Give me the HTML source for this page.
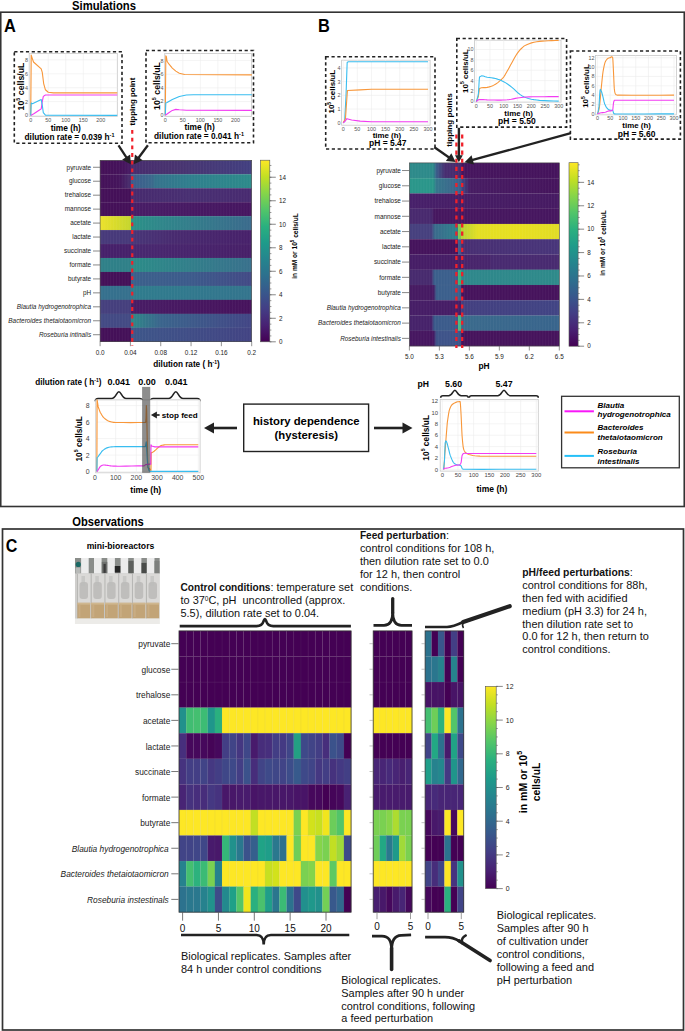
<!DOCTYPE html>
<html><head><meta charset="utf-8"><style>
html,body{margin:0;padding:0;background:#fff;}
svg{display:block;font-family:"Liberation Sans", sans-serif;}
</style></head><body>
<svg width="685" height="1031" viewBox="0 0 685 1031">
<defs><linearGradient id="vir" x1="0" y1="1" x2="0" y2="0"><stop offset="0.000" stop-color="#440154"/><stop offset="0.091" stop-color="#482173"/><stop offset="0.182" stop-color="#433e85"/><stop offset="0.273" stop-color="#38588c"/><stop offset="0.364" stop-color="#2d708e"/><stop offset="0.455" stop-color="#25858e"/><stop offset="0.545" stop-color="#1e9b8a"/><stop offset="0.636" stop-color="#2ab07f"/><stop offset="0.727" stop-color="#52c569"/><stop offset="0.818" stop-color="#86d549"/><stop offset="0.909" stop-color="#c2df23"/><stop offset="1.000" stop-color="#fde725"/></linearGradient><linearGradient id="g1" x1="0" y1="0" x2="1" y2="0"><stop offset="0.0000" stop-color="#440f57"/><stop offset="0.1500" stop-color="#45135b"/><stop offset="0.2040" stop-color="#481c65"/><stop offset="0.2040" stop-color="#472c6e"/><stop offset="0.5000" stop-color="#48336f"/><stop offset="1.0000" stop-color="#423f80"/></linearGradient><linearGradient id="g2" x1="0" y1="0" x2="1" y2="0"><stop offset="0.0000" stop-color="#441058"/><stop offset="0.1300" stop-color="#45155c"/><stop offset="0.2040" stop-color="#48306f"/><stop offset="0.2040" stop-color="#3d5a8b"/><stop offset="0.3500" stop-color="#3a6a8c"/><stop offset="0.3600" stop-color="#35728c"/><stop offset="0.6000" stop-color="#2f7f8d"/><stop offset="1.0000" stop-color="#2c8a8a"/></linearGradient><linearGradient id="g3" x1="0" y1="0" x2="1" y2="0"><stop offset="0.0000" stop-color="#441058"/><stop offset="0.2040" stop-color="#441058"/><stop offset="0.2040" stop-color="#472a6e"/><stop offset="0.6000" stop-color="#482f72"/><stop offset="1.0000" stop-color="#482a70"/></linearGradient><linearGradient id="g4" x1="0" y1="0" x2="1" y2="0"><stop offset="0.0000" stop-color="#441058"/><stop offset="0.2040" stop-color="#441058"/><stop offset="0.2040" stop-color="#481d66"/><stop offset="1.0000" stop-color="#461560"/></linearGradient><linearGradient id="g5" x1="0" y1="0" x2="1" y2="0"><stop offset="0.0000" stop-color="#ece12b"/><stop offset="0.2040" stop-color="#c4d52d"/><stop offset="0.2040" stop-color="#2a9187"/><stop offset="0.4000" stop-color="#2f868a"/><stop offset="1.0000" stop-color="#3a6a8c"/></linearGradient><linearGradient id="g6" x1="0" y1="0" x2="1" y2="0"><stop offset="0.0000" stop-color="#47397a"/><stop offset="0.2040" stop-color="#47397a"/><stop offset="0.2040" stop-color="#483678"/><stop offset="0.5000" stop-color="#482a6f"/><stop offset="1.0000" stop-color="#47206a"/></linearGradient><linearGradient id="g7" x1="0" y1="0" x2="1" y2="0"><stop offset="0.0000" stop-color="#46206a"/><stop offset="0.2040" stop-color="#46206a"/><stop offset="0.2040" stop-color="#482870"/><stop offset="1.0000" stop-color="#471f68"/></linearGradient><linearGradient id="g8" x1="0" y1="0" x2="1" y2="0"><stop offset="0.0000" stop-color="#2f8088"/><stop offset="0.2040" stop-color="#2f8088"/><stop offset="0.2040" stop-color="#2b8c88"/><stop offset="1.0000" stop-color="#38708c"/></linearGradient><linearGradient id="g9" x1="0" y1="0" x2="1" y2="0"><stop offset="0.0000" stop-color="#441058"/><stop offset="0.2040" stop-color="#441058"/><stop offset="0.2040" stop-color="#3b608b"/><stop offset="0.6000" stop-color="#3c5a8b"/><stop offset="1.0000" stop-color="#424985"/></linearGradient><linearGradient id="g10" x1="0" y1="0" x2="1" y2="0"><stop offset="0.0000" stop-color="#35708d"/><stop offset="0.2040" stop-color="#35708d"/><stop offset="0.2040" stop-color="#2f7c8d"/><stop offset="1.0000" stop-color="#33748d"/></linearGradient><linearGradient id="g11" x1="0" y1="0" x2="1" y2="0"><stop offset="0.0000" stop-color="#453f7d"/><stop offset="0.2040" stop-color="#453f7d"/><stop offset="0.2040" stop-color="#481c65"/><stop offset="1.0000" stop-color="#46125c"/></linearGradient><linearGradient id="g12" x1="0" y1="0" x2="1" y2="0"><stop offset="0.0000" stop-color="#434a84"/><stop offset="0.2040" stop-color="#434a84"/><stop offset="0.2040" stop-color="#2e8888"/><stop offset="0.4000" stop-color="#3a648c"/><stop offset="1.0000" stop-color="#424585"/></linearGradient><linearGradient id="g13" x1="0" y1="0" x2="1" y2="0"><stop offset="0.0000" stop-color="#441058"/><stop offset="0.2040" stop-color="#441058"/><stop offset="0.2040" stop-color="#3d5689"/><stop offset="1.0000" stop-color="#424383"/></linearGradient><pattern id="stripes" x="0" y="0" width="2.9" height="10" patternUnits="userSpaceOnUse"><rect x="0" y="0" width="0.7" height="10" fill="#fff" opacity="0.05"/></pattern><linearGradient id="g14" x1="0" y1="0" x2="1" y2="0"><stop offset="0.0000" stop-color="#2d8a8a"/><stop offset="0.1594" stop-color="#2d8a8a"/><stop offset="0.1794" stop-color="#3a5e8b"/><stop offset="0.2375" stop-color="#472d70"/><stop offset="0.3429" stop-color="#472a6e"/><stop offset="0.3429" stop-color="#46155e"/><stop offset="1.0000" stop-color="#45135c"/></linearGradient><linearGradient id="g15" x1="0" y1="0" x2="1" y2="0"><stop offset="0.0000" stop-color="#2a968a"/><stop offset="0.1594" stop-color="#2a968a"/><stop offset="0.1794" stop-color="#35778c"/><stop offset="0.3149" stop-color="#3b648b"/><stop offset="0.3429" stop-color="#3b5e8b"/><stop offset="0.3429" stop-color="#3e4e86"/><stop offset="0.4043" stop-color="#471c63"/><stop offset="1.0000" stop-color="#45145c"/></linearGradient><linearGradient id="g16" x1="0" y1="0" x2="1" y2="0"><stop offset="0.0000" stop-color="#47206a"/><stop offset="0.5000" stop-color="#461c64"/><stop offset="1.0000" stop-color="#461a62"/></linearGradient><linearGradient id="g17" x1="0" y1="0" x2="1" y2="0"><stop offset="0.0000" stop-color="#48296e"/><stop offset="0.1461" stop-color="#48296e"/><stop offset="0.1681" stop-color="#46175f"/><stop offset="1.0000" stop-color="#46165f"/></linearGradient><linearGradient id="g18" x1="0" y1="0" x2="1" y2="0"><stop offset="0.0000" stop-color="#46407e"/><stop offset="0.1461" stop-color="#46407e"/><stop offset="0.1681" stop-color="#3a6a8c"/><stop offset="0.3149" stop-color="#2e808c"/><stop offset="0.3256" stop-color="#2e808c"/><stop offset="0.3256" stop-color="#7ec850"/><stop offset="0.3429" stop-color="#7ec850"/><stop offset="0.3429" stop-color="#b5d235"/><stop offset="0.4576" stop-color="#e3de24"/><stop offset="0.7378" stop-color="#e8e020"/><stop offset="1.0000" stop-color="#e0dc26"/></linearGradient><linearGradient id="g19" x1="0" y1="0" x2="1" y2="0"><stop offset="0.0000" stop-color="#45135c"/><stop offset="0.3256" stop-color="#45135c"/><stop offset="0.3256" stop-color="#3d5a8a"/><stop offset="0.3429" stop-color="#3d5a8a"/><stop offset="0.3429" stop-color="#482e72"/><stop offset="1.0000" stop-color="#48357a"/></linearGradient><linearGradient id="g20" x1="0" y1="0" x2="1" y2="0"><stop offset="0.0000" stop-color="#461d66"/><stop offset="0.3429" stop-color="#461d66"/><stop offset="0.3429" stop-color="#48246b"/><stop offset="0.5377" stop-color="#48256c"/><stop offset="0.5444" stop-color="#482a70"/><stop offset="1.0000" stop-color="#482a70"/></linearGradient><linearGradient id="g21" x1="0" y1="0" x2="1" y2="0"><stop offset="0.0000" stop-color="#472a6e"/><stop offset="0.1461" stop-color="#472a6e"/><stop offset="0.1661" stop-color="#3b5f8c"/><stop offset="0.3256" stop-color="#3b5f8c"/><stop offset="0.3256" stop-color="#38b47a"/><stop offset="0.3429" stop-color="#38b47a"/><stop offset="0.3429" stop-color="#2e878b"/><stop offset="1.0000" stop-color="#2e8a8a"/></linearGradient><linearGradient id="g22" x1="0" y1="0" x2="1" y2="0"><stop offset="0.0000" stop-color="#461a62"/><stop offset="0.1594" stop-color="#461a62"/><stop offset="0.1814" stop-color="#3b5f8c"/><stop offset="0.3429" stop-color="#3b5f8c"/><stop offset="0.3429" stop-color="#46135c"/><stop offset="1.0000" stop-color="#46135c"/></linearGradient><linearGradient id="g23" x1="0" y1="0" x2="1" y2="0"><stop offset="0.0000" stop-color="#461d66"/><stop offset="0.3429" stop-color="#461d66"/><stop offset="0.3429" stop-color="#433f80"/><stop offset="1.0000" stop-color="#414484"/></linearGradient><linearGradient id="g24" x1="0" y1="0" x2="1" y2="0"><stop offset="0.0000" stop-color="#46226a"/><stop offset="0.1461" stop-color="#46226a"/><stop offset="0.1661" stop-color="#3b5b8b"/><stop offset="0.3256" stop-color="#3b5b8b"/><stop offset="0.3256" stop-color="#4ab880"/><stop offset="0.3429" stop-color="#4ab880"/><stop offset="0.3429" stop-color="#3a6a8c"/><stop offset="1.0000" stop-color="#38648c"/></linearGradient><linearGradient id="g25" x1="0" y1="0" x2="1" y2="0"><stop offset="0.0000" stop-color="#461660"/><stop offset="0.1594" stop-color="#461660"/><stop offset="0.1814" stop-color="#3e5389"/><stop offset="0.3429" stop-color="#3e5389"/><stop offset="0.3429" stop-color="#46135c"/><stop offset="1.0000" stop-color="#46135c"/></linearGradient><filter id="pblur" x="-5%" y="-5%" width="110%" height="110%"><feGaussianBlur stdDeviation="0.7"/></filter></defs>
<rect x="0" y="0" width="685" height="1031" fill="#fff"/>
<rect x="0.75" y="12.20" width="683.50" height="494.30" fill="none" stroke="#333" stroke-width="1.6" />
<rect x="2.50" y="529.00" width="681.00" height="501.00" fill="none" stroke="#333" stroke-width="1.7" />
<text x="0" y="0" font-size="11.3" font-weight="bold" transform="translate(72.0 9.7) scale(1 1.08)">Simulations</text>
<text x="0" y="0" font-size="11.2" font-weight="bold" transform="translate(72.3 525.5) scale(1 1.08)">Observations</text>
<text x="0" y="0" font-size="16.4" font-weight="bold" transform="translate(4.0 31.6) scale(1 1.1)">A</text>
<text x="0" y="0" font-size="16.4" font-weight="bold" transform="translate(318.0 32.2) scale(1 1.1)">B</text>
<text x="0" y="0" font-size="16.4" font-weight="bold" transform="translate(5.8 551.6) scale(0.98 1.12)">C</text>
<rect x="14.30" y="51.80" width="107.70" height="91.40" fill="none" stroke="#222" stroke-width="1.6" stroke-dasharray="3.2,2.6"/>
<rect x="29.20" y="53.40" width="88.10" height="62.90" fill="#fff" stroke="#c8c8c8" stroke-width="0.8" />
<line x1="30.70" y1="53.40" x2="30.70" y2="116.30" stroke="#ececec" stroke-width="0.6" />
<line x1="48.22" y1="53.40" x2="48.22" y2="116.30" stroke="#ececec" stroke-width="0.6" />
<line x1="65.75" y1="53.40" x2="65.75" y2="116.30" stroke="#ececec" stroke-width="0.6" />
<line x1="83.27" y1="53.40" x2="83.27" y2="116.30" stroke="#ececec" stroke-width="0.6" />
<line x1="100.80" y1="53.40" x2="100.80" y2="116.30" stroke="#ececec" stroke-width="0.6" />
<line x1="29.20" y1="115.50" x2="117.30" y2="115.50" stroke="#ececec" stroke-width="0.6" />
<line x1="29.20" y1="101.60" x2="117.30" y2="101.60" stroke="#ececec" stroke-width="0.6" />
<line x1="29.20" y1="87.70" x2="117.30" y2="87.70" stroke="#ececec" stroke-width="0.6" />
<line x1="29.20" y1="73.80" x2="117.30" y2="73.80" stroke="#ececec" stroke-width="0.6" />
<line x1="29.20" y1="59.90" x2="117.30" y2="59.90" stroke="#ececec" stroke-width="0.6" />
<text x="30.70" y="121.90" font-size="5.4" font-weight="normal" font-style="normal" text-anchor="middle" fill="#555" >0</text>
<text x="48.22" y="121.90" font-size="5.4" font-weight="normal" font-style="normal" text-anchor="middle" fill="#555" >50</text>
<text x="65.75" y="121.90" font-size="5.4" font-weight="normal" font-style="normal" text-anchor="middle" fill="#555" >100</text>
<text x="83.27" y="121.90" font-size="5.4" font-weight="normal" font-style="normal" text-anchor="middle" fill="#555" >150</text>
<text x="100.80" y="121.90" font-size="5.4" font-weight="normal" font-style="normal" text-anchor="middle" fill="#555" >200</text>
<text x="28.00" y="117.44" font-size="5.4" font-weight="normal" font-style="normal" text-anchor="end" fill="#555" >0</text>
<text x="28.00" y="103.54" font-size="5.4" font-weight="normal" font-style="normal" text-anchor="end" fill="#555" >2</text>
<text x="28.00" y="89.64" font-size="5.4" font-weight="normal" font-style="normal" text-anchor="end" fill="#555" >4</text>
<text x="28.00" y="75.74" font-size="5.4" font-weight="normal" font-style="normal" text-anchor="end" fill="#555" >6</text>
<text x="28.00" y="61.84" font-size="5.4" font-weight="normal" font-style="normal" text-anchor="end" fill="#555" >8</text>
<path d="M30.70,115.50 L31.23,55.04 L32.10,57.81 L33.50,61.98 L41.21,68.94 L42.27,72.41 L43.67,83.53 L45.42,89.78 L48.22,92.22 L53.48,92.91 L117.27,92.91" stroke="#f8973a" stroke-width="1.1" fill="none" stroke-linejoin="round"/>
<path d="M30.70,115.50 L34.20,113.42 L39.46,109.94 L41.21,108.90 L42.27,101.60 L43.32,96.39 L45.42,95.00 L117.27,95.00" stroke="#f23cf2" stroke-width="1.1" fill="none" stroke-linejoin="round"/>
<path d="M30.70,115.50 L31.23,102.99 L32.45,103.69 L41.21,99.52 L42.27,105.08 L43.32,112.72 L45.42,115.15 L117.27,115.36" stroke="#38bdf0" stroke-width="1.1" fill="none" stroke-linejoin="round"/>
<text x="20.60" y="86.50" font-size="8.8" font-weight="bold" font-style="normal" text-anchor="middle" fill="#000" transform="rotate(-90 20.6 86.5)" dominant-baseline="central">10<tspan dy="-3" font-size="5.4">5</tspan><tspan dy="3"> cells/uL</tspan></text>
<text x="65.80" y="130.60" font-size="8.4" font-weight="bold" font-style="normal" text-anchor="middle" fill="#000" >time (h)</text>
<text x="69.50" y="139.50" font-size="8.3" font-weight="bold" font-style="normal" text-anchor="middle" fill="#000" >dilution rate = 0.039 h<tspan dy="-3" font-size="5.5">-1</tspan></text>
<rect x="146.00" y="50.50" width="107.50" height="92.30" fill="none" stroke="#222" stroke-width="1.6" stroke-dasharray="3.2,2.6"/>
<rect x="164.70" y="53.50" width="86.70" height="62.90" fill="#fff" stroke="#c8c8c8" stroke-width="0.8" />
<line x1="165.30" y1="53.50" x2="165.30" y2="116.40" stroke="#ececec" stroke-width="0.6" />
<line x1="182.83" y1="53.50" x2="182.83" y2="116.40" stroke="#ececec" stroke-width="0.6" />
<line x1="200.35" y1="53.50" x2="200.35" y2="116.40" stroke="#ececec" stroke-width="0.6" />
<line x1="217.88" y1="53.50" x2="217.88" y2="116.40" stroke="#ececec" stroke-width="0.6" />
<line x1="235.40" y1="53.50" x2="235.40" y2="116.40" stroke="#ececec" stroke-width="0.6" />
<line x1="164.70" y1="115.20" x2="251.40" y2="115.20" stroke="#ececec" stroke-width="0.6" />
<line x1="164.70" y1="101.54" x2="251.40" y2="101.54" stroke="#ececec" stroke-width="0.6" />
<line x1="164.70" y1="87.88" x2="251.40" y2="87.88" stroke="#ececec" stroke-width="0.6" />
<line x1="164.70" y1="74.22" x2="251.40" y2="74.22" stroke="#ececec" stroke-width="0.6" />
<line x1="164.70" y1="60.56" x2="251.40" y2="60.56" stroke="#ececec" stroke-width="0.6" />
<text x="165.30" y="122.00" font-size="5.4" font-weight="normal" font-style="normal" text-anchor="middle" fill="#555" >0</text>
<text x="182.83" y="122.00" font-size="5.4" font-weight="normal" font-style="normal" text-anchor="middle" fill="#555" >50</text>
<text x="200.35" y="122.00" font-size="5.4" font-weight="normal" font-style="normal" text-anchor="middle" fill="#555" >100</text>
<text x="217.88" y="122.00" font-size="5.4" font-weight="normal" font-style="normal" text-anchor="middle" fill="#555" >150</text>
<text x="235.40" y="122.00" font-size="5.4" font-weight="normal" font-style="normal" text-anchor="middle" fill="#555" >200</text>
<text x="163.50" y="117.14" font-size="5.4" font-weight="normal" font-style="normal" text-anchor="end" fill="#555" >0</text>
<text x="163.50" y="103.48" font-size="5.4" font-weight="normal" font-style="normal" text-anchor="end" fill="#555" >2</text>
<text x="163.50" y="89.82" font-size="5.4" font-weight="normal" font-style="normal" text-anchor="end" fill="#555" >4</text>
<text x="163.50" y="76.16" font-size="5.4" font-weight="normal" font-style="normal" text-anchor="end" fill="#555" >6</text>
<text x="163.50" y="62.50" font-size="5.4" font-weight="normal" font-style="normal" text-anchor="end" fill="#555" >8</text>
<path d="M165.30,115.20 L165.83,55.78 L166.35,56.46 L167.05,61.24 L168.81,63.98 L172.31,68.07 L175.81,71.15 L179.32,73.20 L184.58,74.56 L251.87,74.90" stroke="#f8973a" stroke-width="1.1" fill="none" stroke-linejoin="round"/>
<path d="M165.30,115.20 L165.83,102.91 L167.05,102.56 L172.31,99.49 L179.32,96.42 L186.33,95.05 L193.34,94.71 L251.87,94.71" stroke="#38bdf0" stroke-width="1.1" fill="none" stroke-linejoin="round"/>
<path d="M165.30,115.20 L168.81,112.81 L172.31,110.42 L175.81,109.39 L179.32,109.74 L186.33,110.28 L251.87,110.42" stroke="#f23cf2" stroke-width="1.1" fill="none" stroke-linejoin="round"/>
<text x="156.50" y="86.00" font-size="8.8" font-weight="bold" font-style="normal" text-anchor="middle" fill="#000" transform="rotate(-90 156.5 86)" dominant-baseline="central">10<tspan dy="-3" font-size="5.4">5</tspan><tspan dy="3"> cells/uL</tspan></text>
<text x="199.60" y="130.30" font-size="8.4" font-weight="bold" font-style="normal" text-anchor="middle" fill="#000" >time (h)</text>
<text x="199.00" y="139.00" font-size="8.3" font-weight="bold" font-style="normal" text-anchor="middle" fill="#000" >dilution rate = 0.041 h<tspan dy="-3" font-size="5.5">-1</tspan></text>
<text x="133.00" y="101.60" font-size="7.9" font-weight="bold" font-style="normal" text-anchor="middle" fill="#000" transform="rotate(-90 133 101.6)" dominant-baseline="central">tipping point</text>
<rect x="325.70" y="56.70" width="109.30" height="92.30" fill="none" stroke="#222" stroke-width="1.6" stroke-dasharray="3.2,2.6"/>
<rect x="341.60" y="60.20" width="88.50" height="65.00" fill="#fff" stroke="#c8c8c8" stroke-width="0.8" />
<line x1="343.20" y1="60.20" x2="343.20" y2="125.20" stroke="#ececec" stroke-width="0.6" />
<line x1="357.33" y1="60.20" x2="357.33" y2="125.20" stroke="#ececec" stroke-width="0.6" />
<line x1="371.47" y1="60.20" x2="371.47" y2="125.20" stroke="#ececec" stroke-width="0.6" />
<line x1="385.61" y1="60.20" x2="385.61" y2="125.20" stroke="#ececec" stroke-width="0.6" />
<line x1="399.74" y1="60.20" x2="399.74" y2="125.20" stroke="#ececec" stroke-width="0.6" />
<line x1="413.88" y1="60.20" x2="413.88" y2="125.20" stroke="#ececec" stroke-width="0.6" />
<line x1="428.01" y1="60.20" x2="428.01" y2="125.20" stroke="#ececec" stroke-width="0.6" />
<line x1="341.60" y1="122.80" x2="430.10" y2="122.80" stroke="#ececec" stroke-width="0.6" />
<line x1="341.60" y1="109.08" x2="430.10" y2="109.08" stroke="#ececec" stroke-width="0.6" />
<line x1="341.60" y1="95.36" x2="430.10" y2="95.36" stroke="#ececec" stroke-width="0.6" />
<line x1="341.60" y1="81.64" x2="430.10" y2="81.64" stroke="#ececec" stroke-width="0.6" />
<line x1="341.60" y1="67.92" x2="430.10" y2="67.92" stroke="#ececec" stroke-width="0.6" />
<text x="343.20" y="130.80" font-size="5.4" font-weight="normal" font-style="normal" text-anchor="middle" fill="#555" >0</text>
<text x="357.33" y="130.80" font-size="5.4" font-weight="normal" font-style="normal" text-anchor="middle" fill="#555" >50</text>
<text x="371.47" y="130.80" font-size="5.4" font-weight="normal" font-style="normal" text-anchor="middle" fill="#555" >100</text>
<text x="385.61" y="130.80" font-size="5.4" font-weight="normal" font-style="normal" text-anchor="middle" fill="#555" >150</text>
<text x="399.74" y="130.80" font-size="5.4" font-weight="normal" font-style="normal" text-anchor="middle" fill="#555" >200</text>
<text x="413.88" y="130.80" font-size="5.4" font-weight="normal" font-style="normal" text-anchor="middle" fill="#555" >250</text>
<text x="428.01" y="130.80" font-size="5.4" font-weight="normal" font-style="normal" text-anchor="middle" fill="#555" >300</text>
<text x="340.40" y="124.74" font-size="5.4" font-weight="normal" font-style="normal" text-anchor="end" fill="#555" >0</text>
<text x="340.40" y="111.02" font-size="5.4" font-weight="normal" font-style="normal" text-anchor="end" fill="#555" >1</text>
<text x="340.40" y="97.30" font-size="5.4" font-weight="normal" font-style="normal" text-anchor="end" fill="#555" >2</text>
<text x="340.40" y="83.58" font-size="5.4" font-weight="normal" font-style="normal" text-anchor="end" fill="#555" >3</text>
<text x="340.40" y="69.86" font-size="5.4" font-weight="normal" font-style="normal" text-anchor="end" fill="#555" >4</text>
<path d="M343.20,122.80 L344.61,121.43 L346.03,95.36 L347.16,62.43 L348.29,61.75 L428.01,61.75" stroke="#38bdf0" stroke-width="1.1" fill="none" stroke-linejoin="round"/>
<path d="M343.20,122.80 L345.46,118.68 L346.59,102.22 L347.44,90.56 L360.16,89.87 L371.47,89.19 L428.01,89.19" stroke="#f8973a" stroke-width="1.1" fill="none" stroke-linejoin="round"/>
<path d="M343.20,122.80 L345.46,120.74 L346.88,118.68 L351.68,120.06 L360.16,121.15 L371.47,121.70 L428.01,121.70" stroke="#f23cf2" stroke-width="1.1" fill="none" stroke-linejoin="round"/>
<text x="331.80" y="91.70" font-size="8.0" font-weight="bold" font-style="normal" text-anchor="middle" fill="#000" transform="rotate(-90 331.8 91.7)" dominant-baseline="central">10<tspan dy="-3" font-size="5">5</tspan><tspan dy="3"> cells/uL</tspan></text>
<text x="386.90" y="137.50" font-size="7.9" font-weight="bold" font-style="normal" text-anchor="middle" fill="#000" >time (h)</text>
<text x="387.80" y="146.00" font-size="8.5" font-weight="bold" font-style="normal" text-anchor="middle" fill="#000" >pH = 5.47</text>
<rect x="456.80" y="38.50" width="109.80" height="88.60" fill="none" stroke="#222" stroke-width="1.6" stroke-dasharray="3.2,2.6"/>
<rect x="474.60" y="40.20" width="86.40" height="61.90" fill="#fff" stroke="#c8c8c8" stroke-width="0.8" />
<line x1="476.20" y1="40.20" x2="476.20" y2="102.10" stroke="#ececec" stroke-width="0.6" />
<line x1="489.95" y1="40.20" x2="489.95" y2="102.10" stroke="#ececec" stroke-width="0.6" />
<line x1="503.70" y1="40.20" x2="503.70" y2="102.10" stroke="#ececec" stroke-width="0.6" />
<line x1="517.45" y1="40.20" x2="517.45" y2="102.10" stroke="#ececec" stroke-width="0.6" />
<line x1="531.20" y1="40.20" x2="531.20" y2="102.10" stroke="#ececec" stroke-width="0.6" />
<line x1="544.95" y1="40.20" x2="544.95" y2="102.10" stroke="#ececec" stroke-width="0.6" />
<line x1="558.70" y1="40.20" x2="558.70" y2="102.10" stroke="#ececec" stroke-width="0.6" />
<line x1="474.60" y1="101.40" x2="561.00" y2="101.40" stroke="#ececec" stroke-width="0.6" />
<line x1="474.60" y1="91.02" x2="561.00" y2="91.02" stroke="#ececec" stroke-width="0.6" />
<line x1="474.60" y1="80.64" x2="561.00" y2="80.64" stroke="#ececec" stroke-width="0.6" />
<line x1="474.60" y1="70.26" x2="561.00" y2="70.26" stroke="#ececec" stroke-width="0.6" />
<line x1="474.60" y1="59.88" x2="561.00" y2="59.88" stroke="#ececec" stroke-width="0.6" />
<line x1="474.60" y1="49.50" x2="561.00" y2="49.50" stroke="#ececec" stroke-width="0.6" />
<text x="476.20" y="107.70" font-size="5.4" font-weight="normal" font-style="normal" text-anchor="middle" fill="#555" >0</text>
<text x="489.95" y="107.70" font-size="5.4" font-weight="normal" font-style="normal" text-anchor="middle" fill="#555" >50</text>
<text x="503.70" y="107.70" font-size="5.4" font-weight="normal" font-style="normal" text-anchor="middle" fill="#555" >100</text>
<text x="517.45" y="107.70" font-size="5.4" font-weight="normal" font-style="normal" text-anchor="middle" fill="#555" >150</text>
<text x="531.20" y="107.70" font-size="5.4" font-weight="normal" font-style="normal" text-anchor="middle" fill="#555" >200</text>
<text x="544.95" y="107.70" font-size="5.4" font-weight="normal" font-style="normal" text-anchor="middle" fill="#555" >250</text>
<text x="558.70" y="107.70" font-size="5.4" font-weight="normal" font-style="normal" text-anchor="middle" fill="#555" >300</text>
<text x="473.40" y="103.34" font-size="5.4" font-weight="normal" font-style="normal" text-anchor="end" fill="#555" >0</text>
<text x="473.40" y="92.96" font-size="5.4" font-weight="normal" font-style="normal" text-anchor="end" fill="#555" >2</text>
<text x="473.40" y="82.58" font-size="5.4" font-weight="normal" font-style="normal" text-anchor="end" fill="#555" >4</text>
<text x="473.40" y="72.20" font-size="5.4" font-weight="normal" font-style="normal" text-anchor="end" fill="#555" >6</text>
<text x="473.40" y="61.82" font-size="5.4" font-weight="normal" font-style="normal" text-anchor="end" fill="#555" >8</text>
<text x="473.40" y="51.44" font-size="5.4" font-weight="normal" font-style="normal" text-anchor="end" fill="#555" >10</text>
<path d="M476.20,101.40 L476.75,100.53 L477.30,99.29 L477.85,97.81 L478.40,96.21 L478.68,94.29 L478.95,92.06 L479.22,89.96 L479.50,88.43 L481.43,87.74 L483.35,87.61 L485.27,87.63 L487.20,87.39 L489.26,86.85 L491.32,86.22 L493.39,85.39 L495.45,84.27 L497.51,82.86 L499.57,81.19 L501.64,79.25 L503.70,77.01 L505.42,74.35 L507.14,71.33 L508.86,68.16 L510.57,65.07 L512.29,61.98 L514.01,58.81 L515.73,55.79 L517.45,53.13 L519.17,50.90 L520.89,48.98 L522.61,47.32 L524.33,45.87 L526.73,44.65 L529.14,43.68 L531.54,42.89 L533.95,42.23 L536.70,41.73 L539.45,41.39 L542.20,41.15 L544.95,40.94 L548.39,40.74 L551.83,40.60 L555.26,40.49 L558.70,40.42" stroke="#f8973a" stroke-width="1.1" fill="none" stroke-linejoin="round"/>
<path d="M476.20,101.40 L476.75,100.21 L477.30,98.55 L477.85,96.36 L478.40,93.62 L478.68,89.69 L478.95,84.81 L479.22,80.18 L479.50,77.01 L481.43,75.86 L483.35,76.02 L485.27,76.73 L487.20,77.27 L489.26,77.48 L491.32,77.74 L493.39,78.09 L495.45,78.56 L497.51,79.15 L499.57,79.85 L501.64,80.67 L503.70,81.68 L505.76,82.89 L507.82,84.27 L509.89,85.79 L511.95,87.39 L514.01,89.17 L516.08,91.13 L518.14,93.04 L520.20,94.65 L522.26,95.91 L524.33,96.94 L526.39,97.80 L528.45,98.55 L531.20,99.17 L533.95,99.65 L536.70,100.03 L539.45,100.36 L544.26,100.65 L549.08,100.86 L553.89,101.02 L558.70,101.14" stroke="#38bdf0" stroke-width="1.1" fill="none" stroke-linejoin="round"/>
<path d="M476.20,101.40 L476.89,101.02 L477.57,100.48 L478.26,99.93 L478.95,99.58 L481.01,99.50 L483.07,99.58 L485.14,99.73 L487.20,99.84 L490.64,99.93 L494.07,100.02 L497.51,100.09 L500.95,100.10 L503.01,100.05 L505.07,99.96 L507.14,99.80 L509.20,99.58 L511.26,99.26 L513.33,98.84 L515.39,98.40 L517.45,98.03 L519.51,97.71 L521.58,97.43 L523.64,97.18 L525.70,96.99 L529.14,96.87 L532.58,96.80 L536.01,96.76 L539.45,96.73 L544.26,96.69 L549.08,96.66 L553.89,96.64 L558.70,96.63" stroke="#f23cf2" stroke-width="1.1" fill="none" stroke-linejoin="round"/>
<text x="465.40" y="71.10" font-size="8.0" font-weight="bold" font-style="normal" text-anchor="middle" fill="#000" transform="rotate(-90 465.4 71.1)" dominant-baseline="central">10<tspan dy="-3" font-size="5">5</tspan><tspan dy="3"> cells/uL</tspan></text>
<text x="518.60" y="116.30" font-size="7.9" font-weight="bold" font-style="normal" text-anchor="middle" fill="#000" >time (h)</text>
<text x="516.90" y="124.00" font-size="8.5" font-weight="bold" font-style="normal" text-anchor="middle" fill="#000" >pH = 5.50</text>
<rect x="570.40" y="51.00" width="110.00" height="88.10" fill="none" stroke="#222" stroke-width="1.6" stroke-dasharray="3.2,2.6"/>
<rect x="595.60" y="55.50" width="80.80" height="59.30" fill="#fff" stroke="#c8c8c8" stroke-width="0.8" />
<line x1="597.40" y1="55.50" x2="597.40" y2="114.80" stroke="#ececec" stroke-width="0.6" />
<line x1="610.16" y1="55.50" x2="610.16" y2="114.80" stroke="#ececec" stroke-width="0.6" />
<line x1="622.93" y1="55.50" x2="622.93" y2="114.80" stroke="#ececec" stroke-width="0.6" />
<line x1="635.69" y1="55.50" x2="635.69" y2="114.80" stroke="#ececec" stroke-width="0.6" />
<line x1="648.46" y1="55.50" x2="648.46" y2="114.80" stroke="#ececec" stroke-width="0.6" />
<line x1="661.23" y1="55.50" x2="661.23" y2="114.80" stroke="#ececec" stroke-width="0.6" />
<line x1="673.99" y1="55.50" x2="673.99" y2="114.80" stroke="#ececec" stroke-width="0.6" />
<line x1="595.60" y1="113.90" x2="676.40" y2="113.90" stroke="#ececec" stroke-width="0.6" />
<line x1="595.60" y1="104.53" x2="676.40" y2="104.53" stroke="#ececec" stroke-width="0.6" />
<line x1="595.60" y1="95.17" x2="676.40" y2="95.17" stroke="#ececec" stroke-width="0.6" />
<line x1="595.60" y1="85.80" x2="676.40" y2="85.80" stroke="#ececec" stroke-width="0.6" />
<line x1="595.60" y1="76.44" x2="676.40" y2="76.44" stroke="#ececec" stroke-width="0.6" />
<line x1="595.60" y1="67.07" x2="676.40" y2="67.07" stroke="#ececec" stroke-width="0.6" />
<line x1="595.60" y1="57.70" x2="676.40" y2="57.70" stroke="#ececec" stroke-width="0.6" />
<text x="597.40" y="120.40" font-size="5.4" font-weight="normal" font-style="normal" text-anchor="middle" fill="#555" >0</text>
<text x="610.16" y="120.40" font-size="5.4" font-weight="normal" font-style="normal" text-anchor="middle" fill="#555" >50</text>
<text x="622.93" y="120.40" font-size="5.4" font-weight="normal" font-style="normal" text-anchor="middle" fill="#555" >100</text>
<text x="635.69" y="120.40" font-size="5.4" font-weight="normal" font-style="normal" text-anchor="middle" fill="#555" >150</text>
<text x="648.46" y="120.40" font-size="5.4" font-weight="normal" font-style="normal" text-anchor="middle" fill="#555" >200</text>
<text x="661.23" y="120.40" font-size="5.4" font-weight="normal" font-style="normal" text-anchor="middle" fill="#555" >250</text>
<text x="673.99" y="120.40" font-size="5.4" font-weight="normal" font-style="normal" text-anchor="middle" fill="#555" >300</text>
<text x="594.40" y="115.84" font-size="5.4" font-weight="normal" font-style="normal" text-anchor="end" fill="#555" >0</text>
<text x="594.40" y="106.48" font-size="5.4" font-weight="normal" font-style="normal" text-anchor="end" fill="#555" >2</text>
<text x="594.40" y="97.11" font-size="5.4" font-weight="normal" font-style="normal" text-anchor="end" fill="#555" >4</text>
<text x="594.40" y="87.75" font-size="5.4" font-weight="normal" font-style="normal" text-anchor="end" fill="#555" >6</text>
<text x="594.40" y="78.38" font-size="5.4" font-weight="normal" font-style="normal" text-anchor="end" fill="#555" >8</text>
<text x="594.40" y="69.01" font-size="5.4" font-weight="normal" font-style="normal" text-anchor="end" fill="#555" >10</text>
<text x="594.40" y="59.65" font-size="5.4" font-weight="normal" font-style="normal" text-anchor="end" fill="#555" >12</text>
<path d="M597.40,113.90 L597.91,112.91 L598.42,111.56 L598.93,109.62 L599.44,106.88 L599.89,102.96 L600.34,98.09 L600.78,92.94 L601.23,88.14 L601.68,83.72 L602.12,79.36 L602.57,75.30 L603.02,71.75 L603.53,68.79 L604.04,66.28 L604.55,64.17 L605.06,62.39 L605.70,60.99 L606.34,59.99 L606.97,59.25 L607.61,58.64 L608.25,58.19 L608.89,57.94 L609.53,57.81 L610.16,57.70 L610.80,57.31 L611.44,56.77 L612.08,56.69 L612.72,57.70 L612.91,60.17 L613.10,63.70 L613.29,67.75 L613.48,71.75 L613.68,75.94 L613.87,80.48 L614.06,84.75 L614.25,88.14 L614.51,90.40 L614.76,91.89 L615.02,92.91 L615.27,93.76 L615.78,94.44 L616.29,94.82 L616.80,95.01 L617.31,95.17 L631.48,95.27 L645.65,95.26 L659.82,95.20 L673.99,95.17" stroke="#f8973a" stroke-width="1.1" fill="none" stroke-linejoin="round"/>
<path d="M597.40,113.90 L597.78,112.85 L598.17,111.38 L598.55,109.42 L598.93,106.88 L599.19,103.16 L599.44,98.50 L599.70,94.06 L599.95,90.95 L600.21,89.63 L600.46,89.43 L600.72,89.88 L600.97,90.49 L601.36,91.21 L601.74,92.27 L602.12,93.61 L602.51,95.17 L603.02,97.10 L603.53,99.38 L604.04,101.67 L604.55,103.60 L605.19,105.10 L605.82,106.35 L606.46,107.40 L607.10,108.28 L607.87,108.98 L608.63,109.50 L609.40,109.87 L610.16,110.15 L610.80,110.26 L611.44,110.20 L612.08,110.17 L612.72,110.39 L612.97,111.01 L613.23,111.90 L613.48,112.79 L613.74,113.43 L614.12,113.74 L614.51,113.86 L614.89,113.88 L615.27,113.90 L629.95,113.93 L644.63,113.93 L659.31,113.91 L673.99,113.90" stroke="#38bdf0" stroke-width="1.1" fill="none" stroke-linejoin="round"/>
<path d="M597.40,113.90 L598.04,113.73 L598.68,113.48 L599.31,113.20 L599.95,112.96 L601.23,112.79 L602.51,112.64 L603.78,112.48 L605.06,112.26 L606.02,111.94 L606.97,111.56 L607.93,111.17 L608.89,110.86 L609.85,110.78 L610.80,110.86 L611.76,110.76 L612.72,110.15 L612.91,108.74 L613.10,106.76 L613.29,104.72 L613.48,103.13 L613.68,102.12 L613.87,101.42 L614.06,100.93 L614.25,100.55 L614.63,100.32 L615.02,100.28 L615.40,100.31 L615.78,100.32 L630.33,100.30 L644.89,100.30 L659.44,100.31 L673.99,100.32" stroke="#f23cf2" stroke-width="1.1" fill="none" stroke-linejoin="round"/>
<text x="585.50" y="86.00" font-size="8.0" font-weight="bold" font-style="normal" text-anchor="middle" fill="#000" transform="rotate(-90 585.5 86.0)" dominant-baseline="central">10<tspan dy="-3" font-size="5">5</tspan><tspan dy="3"> cells/uL</tspan></text>
<text x="636.60" y="127.80" font-size="7.9" font-weight="bold" font-style="normal" text-anchor="middle" fill="#000" >time (h)</text>
<text x="636.60" y="137.00" font-size="8.5" font-weight="bold" font-style="normal" text-anchor="middle" fill="#000" >pH = 5.60</text>
<text x="449.50" y="120.00" font-size="8.1" font-weight="bold" font-style="normal" text-anchor="middle" fill="#000" transform="rotate(-90 449.5 120)" dominant-baseline="central">tipping points</text>
<rect x="100.10" y="160.30" width="151.60" height="14.15" fill="url(#g1)" stroke="none" stroke-width="1" />
<rect x="100.10" y="174.25" width="151.60" height="14.15" fill="url(#g2)" stroke="none" stroke-width="1" />
<rect x="100.10" y="188.21" width="151.60" height="14.15" fill="url(#g3)" stroke="none" stroke-width="1" />
<rect x="100.10" y="202.16" width="151.60" height="14.15" fill="url(#g4)" stroke="none" stroke-width="1" />
<rect x="100.10" y="216.12" width="151.60" height="14.15" fill="url(#g5)" stroke="none" stroke-width="1" />
<rect x="100.10" y="230.07" width="151.60" height="14.15" fill="url(#g6)" stroke="none" stroke-width="1" />
<rect x="100.10" y="244.02" width="151.60" height="14.15" fill="url(#g7)" stroke="none" stroke-width="1" />
<rect x="100.10" y="257.98" width="151.60" height="14.15" fill="url(#g8)" stroke="none" stroke-width="1" />
<rect x="100.10" y="271.93" width="151.60" height="14.15" fill="url(#g9)" stroke="none" stroke-width="1" />
<rect x="100.10" y="285.88" width="151.60" height="14.15" fill="url(#g10)" stroke="none" stroke-width="1" />
<rect x="100.10" y="299.84" width="151.60" height="14.15" fill="url(#g11)" stroke="none" stroke-width="1" />
<rect x="100.10" y="313.79" width="151.60" height="14.15" fill="url(#g12)" stroke="none" stroke-width="1" />
<rect x="100.10" y="327.75" width="151.60" height="14.15" fill="url(#g13)" stroke="none" stroke-width="1" />
<line x1="100.10" y1="174.25" x2="251.70" y2="174.25" stroke="rgba(160,160,160,0.1)" stroke-width="0.6" />
<line x1="100.10" y1="188.21" x2="251.70" y2="188.21" stroke="rgba(160,160,160,0.1)" stroke-width="0.6" />
<line x1="100.10" y1="202.16" x2="251.70" y2="202.16" stroke="rgba(160,160,160,0.1)" stroke-width="0.6" />
<line x1="100.10" y1="216.12" x2="251.70" y2="216.12" stroke="rgba(160,160,160,0.1)" stroke-width="0.6" />
<line x1="100.10" y1="230.07" x2="251.70" y2="230.07" stroke="rgba(160,160,160,0.1)" stroke-width="0.6" />
<line x1="100.10" y1="244.02" x2="251.70" y2="244.02" stroke="rgba(160,160,160,0.1)" stroke-width="0.6" />
<line x1="100.10" y1="257.98" x2="251.70" y2="257.98" stroke="rgba(160,160,160,0.1)" stroke-width="0.6" />
<line x1="100.10" y1="271.93" x2="251.70" y2="271.93" stroke="rgba(160,160,160,0.1)" stroke-width="0.6" />
<line x1="100.10" y1="285.88" x2="251.70" y2="285.88" stroke="rgba(160,160,160,0.1)" stroke-width="0.6" />
<line x1="100.10" y1="299.84" x2="251.70" y2="299.84" stroke="rgba(160,160,160,0.1)" stroke-width="0.6" />
<line x1="100.10" y1="313.79" x2="251.70" y2="313.79" stroke="rgba(160,160,160,0.1)" stroke-width="0.6" />
<line x1="100.10" y1="327.75" x2="251.70" y2="327.75" stroke="rgba(160,160,160,0.1)" stroke-width="0.6" />
<rect x="100.10" y="160.30" width="151.60" height="181.40" fill="url(#stripes)" stroke="none" stroke-width="1" />
<rect x="100.10" y="160.30" width="151.60" height="181.40" fill="none" stroke="#444" stroke-width="0.6" />
<text x="91.10" y="169.52" font-size="6.4" font-weight="normal" font-style="normal" text-anchor="end" fill="#222" >pyruvate</text>
<line x1="93.00" y1="167.28" x2="100.00" y2="167.28" stroke="#555" stroke-width="0.7" />
<text x="91.10" y="183.47" font-size="6.4" font-weight="normal" font-style="normal" text-anchor="end" fill="#222" >glucose</text>
<line x1="93.00" y1="181.23" x2="100.00" y2="181.23" stroke="#555" stroke-width="0.7" />
<text x="91.10" y="197.42" font-size="6.4" font-weight="normal" font-style="normal" text-anchor="end" fill="#222" >trehalose</text>
<line x1="93.00" y1="195.18" x2="100.00" y2="195.18" stroke="#555" stroke-width="0.7" />
<text x="91.10" y="211.38" font-size="6.4" font-weight="normal" font-style="normal" text-anchor="end" fill="#222" >mannose</text>
<line x1="93.00" y1="209.14" x2="100.00" y2="209.14" stroke="#555" stroke-width="0.7" />
<text x="91.10" y="225.33" font-size="6.4" font-weight="normal" font-style="normal" text-anchor="end" fill="#222" >acetate</text>
<line x1="93.00" y1="223.09" x2="100.00" y2="223.09" stroke="#555" stroke-width="0.7" />
<text x="91.10" y="239.29" font-size="6.4" font-weight="normal" font-style="normal" text-anchor="end" fill="#222" >lactate</text>
<line x1="93.00" y1="237.05" x2="100.00" y2="237.05" stroke="#555" stroke-width="0.7" />
<text x="91.10" y="253.24" font-size="6.4" font-weight="normal" font-style="normal" text-anchor="end" fill="#222" >succinate</text>
<line x1="93.00" y1="251.00" x2="100.00" y2="251.00" stroke="#555" stroke-width="0.7" />
<text x="91.10" y="267.19" font-size="6.4" font-weight="normal" font-style="normal" text-anchor="end" fill="#222" >formate</text>
<line x1="93.00" y1="264.95" x2="100.00" y2="264.95" stroke="#555" stroke-width="0.7" />
<text x="91.10" y="281.15" font-size="6.4" font-weight="normal" font-style="normal" text-anchor="end" fill="#222" >butyrate</text>
<line x1="93.00" y1="278.91" x2="100.00" y2="278.91" stroke="#555" stroke-width="0.7" />
<text x="91.10" y="295.10" font-size="6.4" font-weight="normal" font-style="normal" text-anchor="end" fill="#222" >pH</text>
<line x1="93.00" y1="292.86" x2="100.00" y2="292.86" stroke="#555" stroke-width="0.7" />
<text x="91.10" y="309.06" font-size="6.4" font-weight="normal" font-style="italic" text-anchor="end" fill="#222" >Blautia hydrogenotrophica</text>
<line x1="93.00" y1="306.82" x2="100.00" y2="306.82" stroke="#555" stroke-width="0.7" />
<text x="91.10" y="323.01" font-size="6.4" font-weight="normal" font-style="italic" text-anchor="end" fill="#222" >Bacteroides thetaiotaomicron</text>
<line x1="93.00" y1="320.77" x2="100.00" y2="320.77" stroke="#555" stroke-width="0.7" />
<text x="91.10" y="336.96" font-size="6.4" font-weight="normal" font-style="italic" text-anchor="end" fill="#222" >Roseburia intinalis</text>
<line x1="93.00" y1="334.72" x2="100.00" y2="334.72" stroke="#555" stroke-width="0.7" />
<line x1="100.10" y1="341.70" x2="100.10" y2="346.20" stroke="#666" stroke-width="0.7" />
<text x="100.10" y="354.60" font-size="6.4" font-weight="normal" font-style="normal" text-anchor="middle" fill="#222" >0.0</text>
<line x1="130.42" y1="341.70" x2="130.42" y2="346.20" stroke="#666" stroke-width="0.7" />
<text x="130.42" y="354.60" font-size="6.4" font-weight="normal" font-style="normal" text-anchor="middle" fill="#222" >0.04</text>
<line x1="160.74" y1="341.70" x2="160.74" y2="346.20" stroke="#666" stroke-width="0.7" />
<text x="160.74" y="354.60" font-size="6.4" font-weight="normal" font-style="normal" text-anchor="middle" fill="#222" >0.08</text>
<line x1="191.06" y1="341.70" x2="191.06" y2="346.20" stroke="#666" stroke-width="0.7" />
<text x="191.06" y="354.60" font-size="6.4" font-weight="normal" font-style="normal" text-anchor="middle" fill="#222" >0.12</text>
<line x1="221.38" y1="341.70" x2="221.38" y2="346.20" stroke="#666" stroke-width="0.7" />
<text x="221.38" y="354.60" font-size="6.4" font-weight="normal" font-style="normal" text-anchor="middle" fill="#222" >0.16</text>
<line x1="251.70" y1="341.70" x2="251.70" y2="346.20" stroke="#666" stroke-width="0.7" />
<text x="251.70" y="354.60" font-size="6.4" font-weight="normal" font-style="normal" text-anchor="middle" fill="#222" >0.2</text>
<text x="186.50" y="366.60" font-size="8.2" font-weight="bold" font-style="normal" text-anchor="middle" fill="#000" >dilution rate ( h<tspan dy="-3" font-size="5">-1</tspan><tspan dy="3">)</tspan></text>
<rect x="260.50" y="160.20" width="9.30" height="181.60" fill="url(#vir)" stroke="none" stroke-width="1" />
<rect x="260.50" y="160.20" width="9.30" height="181.60" fill="none" stroke="#555" stroke-width="0.6" />
<line x1="269.80" y1="341.80" x2="275.80" y2="341.80" stroke="#555" stroke-width="0.7" />
<text x="278.90" y="344.07" font-size="6.3" font-weight="normal" font-style="normal" text-anchor="start" fill="#222" >0</text>
<line x1="269.80" y1="318.29" x2="275.80" y2="318.29" stroke="#555" stroke-width="0.7" />
<text x="278.90" y="320.56" font-size="6.3" font-weight="normal" font-style="normal" text-anchor="start" fill="#222" >2</text>
<line x1="269.80" y1="294.78" x2="275.80" y2="294.78" stroke="#555" stroke-width="0.7" />
<text x="278.90" y="297.05" font-size="6.3" font-weight="normal" font-style="normal" text-anchor="start" fill="#222" >4</text>
<line x1="269.80" y1="271.28" x2="275.80" y2="271.28" stroke="#555" stroke-width="0.7" />
<text x="278.90" y="273.54" font-size="6.3" font-weight="normal" font-style="normal" text-anchor="start" fill="#222" >6</text>
<line x1="269.80" y1="247.77" x2="275.80" y2="247.77" stroke="#555" stroke-width="0.7" />
<text x="278.90" y="250.04" font-size="6.3" font-weight="normal" font-style="normal" text-anchor="start" fill="#222" >8</text>
<line x1="269.80" y1="224.26" x2="275.80" y2="224.26" stroke="#555" stroke-width="0.7" />
<text x="278.90" y="226.53" font-size="6.3" font-weight="normal" font-style="normal" text-anchor="start" fill="#222" >10</text>
<line x1="269.80" y1="200.75" x2="275.80" y2="200.75" stroke="#555" stroke-width="0.7" />
<text x="278.90" y="203.02" font-size="6.3" font-weight="normal" font-style="normal" text-anchor="start" fill="#222" >12</text>
<line x1="269.80" y1="177.24" x2="275.80" y2="177.24" stroke="#555" stroke-width="0.7" />
<text x="278.90" y="179.51" font-size="6.3" font-weight="normal" font-style="normal" text-anchor="start" fill="#222" >14</text>
<line x1="269.80" y1="341.80" x2="271.40" y2="341.80" stroke="#555" stroke-width="0.6" />
<line x1="269.80" y1="335.92" x2="271.40" y2="335.92" stroke="#555" stroke-width="0.6" />
<line x1="269.80" y1="330.05" x2="271.40" y2="330.05" stroke="#555" stroke-width="0.6" />
<line x1="269.80" y1="324.17" x2="271.40" y2="324.17" stroke="#555" stroke-width="0.6" />
<line x1="269.80" y1="318.29" x2="271.40" y2="318.29" stroke="#555" stroke-width="0.6" />
<line x1="269.80" y1="312.41" x2="271.40" y2="312.41" stroke="#555" stroke-width="0.6" />
<line x1="269.80" y1="306.54" x2="271.40" y2="306.54" stroke="#555" stroke-width="0.6" />
<line x1="269.80" y1="300.66" x2="271.40" y2="300.66" stroke="#555" stroke-width="0.6" />
<line x1="269.80" y1="294.78" x2="271.40" y2="294.78" stroke="#555" stroke-width="0.6" />
<line x1="269.80" y1="288.91" x2="271.40" y2="288.91" stroke="#555" stroke-width="0.6" />
<line x1="269.80" y1="283.03" x2="271.40" y2="283.03" stroke="#555" stroke-width="0.6" />
<line x1="269.80" y1="277.15" x2="271.40" y2="277.15" stroke="#555" stroke-width="0.6" />
<line x1="269.80" y1="271.28" x2="271.40" y2="271.28" stroke="#555" stroke-width="0.6" />
<line x1="269.80" y1="265.40" x2="271.40" y2="265.40" stroke="#555" stroke-width="0.6" />
<line x1="269.80" y1="259.52" x2="271.40" y2="259.52" stroke="#555" stroke-width="0.6" />
<line x1="269.80" y1="253.64" x2="271.40" y2="253.64" stroke="#555" stroke-width="0.6" />
<line x1="269.80" y1="247.77" x2="271.40" y2="247.77" stroke="#555" stroke-width="0.6" />
<line x1="269.80" y1="241.89" x2="271.40" y2="241.89" stroke="#555" stroke-width="0.6" />
<line x1="269.80" y1="236.01" x2="271.40" y2="236.01" stroke="#555" stroke-width="0.6" />
<line x1="269.80" y1="230.14" x2="271.40" y2="230.14" stroke="#555" stroke-width="0.6" />
<line x1="269.80" y1="224.26" x2="271.40" y2="224.26" stroke="#555" stroke-width="0.6" />
<line x1="269.80" y1="218.38" x2="271.40" y2="218.38" stroke="#555" stroke-width="0.6" />
<line x1="269.80" y1="212.51" x2="271.40" y2="212.51" stroke="#555" stroke-width="0.6" />
<line x1="269.80" y1="206.63" x2="271.40" y2="206.63" stroke="#555" stroke-width="0.6" />
<line x1="269.80" y1="200.75" x2="271.40" y2="200.75" stroke="#555" stroke-width="0.6" />
<line x1="269.80" y1="194.87" x2="271.40" y2="194.87" stroke="#555" stroke-width="0.6" />
<line x1="269.80" y1="189.00" x2="271.40" y2="189.00" stroke="#555" stroke-width="0.6" />
<line x1="269.80" y1="183.12" x2="271.40" y2="183.12" stroke="#555" stroke-width="0.6" />
<line x1="269.80" y1="177.24" x2="271.40" y2="177.24" stroke="#555" stroke-width="0.6" />
<line x1="269.80" y1="171.37" x2="271.40" y2="171.37" stroke="#555" stroke-width="0.6" />
<line x1="269.80" y1="165.49" x2="271.40" y2="165.49" stroke="#555" stroke-width="0.6" />
<text x="294.80" y="246.00" font-size="6.6" font-weight="bold" font-style="normal" text-anchor="middle" fill="#000" transform="rotate(-90 294.8 246)" dominant-baseline="central">in mM or 10<tspan dy="-2.5" font-size="4.5">5</tspan><tspan dy="2.5"> cells/uL</tspan></text>
<line x1="132.25" y1="130.00" x2="132.25" y2="346.00" stroke="#f0202a" stroke-width="2.2" stroke-dasharray="3.8,3.9"/>
<rect x="409.40" y="162.90" width="149.90" height="15.46" fill="url(#g14)" stroke="none" stroke-width="1" />
<rect x="409.40" y="178.16" width="149.90" height="15.46" fill="url(#g15)" stroke="none" stroke-width="1" />
<rect x="409.40" y="193.42" width="149.90" height="15.46" fill="url(#g16)" stroke="none" stroke-width="1" />
<rect x="409.40" y="208.68" width="149.90" height="15.46" fill="url(#g17)" stroke="none" stroke-width="1" />
<rect x="409.40" y="223.93" width="149.90" height="15.46" fill="url(#g18)" stroke="none" stroke-width="1" />
<rect x="409.40" y="239.19" width="149.90" height="15.46" fill="url(#g19)" stroke="none" stroke-width="1" />
<rect x="409.40" y="254.45" width="149.90" height="15.46" fill="url(#g20)" stroke="none" stroke-width="1" />
<rect x="409.40" y="269.71" width="149.90" height="15.46" fill="url(#g21)" stroke="none" stroke-width="1" />
<rect x="409.40" y="284.97" width="149.90" height="15.46" fill="url(#g22)" stroke="none" stroke-width="1" />
<rect x="409.40" y="300.23" width="149.90" height="15.46" fill="url(#g23)" stroke="none" stroke-width="1" />
<rect x="409.40" y="315.48" width="149.90" height="15.46" fill="url(#g24)" stroke="none" stroke-width="1" />
<rect x="409.40" y="330.74" width="149.90" height="15.46" fill="url(#g25)" stroke="none" stroke-width="1" />
<line x1="409.40" y1="178.16" x2="559.30" y2="178.16" stroke="rgba(160,160,160,0.1)" stroke-width="0.6" />
<line x1="409.40" y1="193.42" x2="559.30" y2="193.42" stroke="rgba(160,160,160,0.1)" stroke-width="0.6" />
<line x1="409.40" y1="208.68" x2="559.30" y2="208.68" stroke="rgba(160,160,160,0.1)" stroke-width="0.6" />
<line x1="409.40" y1="223.93" x2="559.30" y2="223.93" stroke="rgba(160,160,160,0.1)" stroke-width="0.6" />
<line x1="409.40" y1="239.19" x2="559.30" y2="239.19" stroke="rgba(160,160,160,0.1)" stroke-width="0.6" />
<line x1="409.40" y1="254.45" x2="559.30" y2="254.45" stroke="rgba(160,160,160,0.1)" stroke-width="0.6" />
<line x1="409.40" y1="269.71" x2="559.30" y2="269.71" stroke="rgba(160,160,160,0.1)" stroke-width="0.6" />
<line x1="409.40" y1="284.97" x2="559.30" y2="284.97" stroke="rgba(160,160,160,0.1)" stroke-width="0.6" />
<line x1="409.40" y1="300.23" x2="559.30" y2="300.23" stroke="rgba(160,160,160,0.1)" stroke-width="0.6" />
<line x1="409.40" y1="315.48" x2="559.30" y2="315.48" stroke="rgba(160,160,160,0.1)" stroke-width="0.6" />
<line x1="409.40" y1="330.74" x2="559.30" y2="330.74" stroke="rgba(160,160,160,0.1)" stroke-width="0.6" />
<rect x="409.40" y="162.90" width="149.90" height="183.10" fill="url(#stripes)" stroke="none" stroke-width="1" />
<rect x="409.40" y="162.90" width="149.90" height="183.10" fill="none" stroke="#444" stroke-width="0.6" />
<text x="400.90" y="172.77" font-size="6.4" font-weight="normal" font-style="normal" text-anchor="end" fill="#222" >pyruvate</text>
<line x1="402.00" y1="170.53" x2="409.20" y2="170.53" stroke="#555" stroke-width="0.7" />
<text x="400.90" y="188.03" font-size="6.4" font-weight="normal" font-style="normal" text-anchor="end" fill="#222" >glucose</text>
<line x1="402.00" y1="185.79" x2="409.20" y2="185.79" stroke="#555" stroke-width="0.7" />
<text x="400.90" y="203.29" font-size="6.4" font-weight="normal" font-style="normal" text-anchor="end" fill="#222" >trehalose</text>
<line x1="402.00" y1="201.05" x2="409.20" y2="201.05" stroke="#555" stroke-width="0.7" />
<text x="400.90" y="218.54" font-size="6.4" font-weight="normal" font-style="normal" text-anchor="end" fill="#222" >mannose</text>
<line x1="402.00" y1="216.30" x2="409.20" y2="216.30" stroke="#555" stroke-width="0.7" />
<text x="400.90" y="233.80" font-size="6.4" font-weight="normal" font-style="normal" text-anchor="end" fill="#222" >acetate</text>
<line x1="402.00" y1="231.56" x2="409.20" y2="231.56" stroke="#555" stroke-width="0.7" />
<text x="400.90" y="249.06" font-size="6.4" font-weight="normal" font-style="normal" text-anchor="end" fill="#222" >lactate</text>
<line x1="402.00" y1="246.82" x2="409.20" y2="246.82" stroke="#555" stroke-width="0.7" />
<text x="400.90" y="264.32" font-size="6.4" font-weight="normal" font-style="normal" text-anchor="end" fill="#222" >succinate</text>
<line x1="402.00" y1="262.08" x2="409.20" y2="262.08" stroke="#555" stroke-width="0.7" />
<text x="400.90" y="279.58" font-size="6.4" font-weight="normal" font-style="normal" text-anchor="end" fill="#222" >formate</text>
<line x1="402.00" y1="277.34" x2="409.20" y2="277.34" stroke="#555" stroke-width="0.7" />
<text x="400.90" y="294.84" font-size="6.4" font-weight="normal" font-style="normal" text-anchor="end" fill="#222" >butyrate</text>
<line x1="402.00" y1="292.60" x2="409.20" y2="292.60" stroke="#555" stroke-width="0.7" />
<text x="400.90" y="310.09" font-size="6.4" font-weight="normal" font-style="italic" text-anchor="end" fill="#222" >Blautia hydrogenotrophica</text>
<line x1="402.00" y1="307.85" x2="409.20" y2="307.85" stroke="#555" stroke-width="0.7" />
<text x="400.90" y="325.35" font-size="6.4" font-weight="normal" font-style="italic" text-anchor="end" fill="#222" >Bacteroides thetaiotaomicron</text>
<line x1="402.00" y1="323.11" x2="409.20" y2="323.11" stroke="#555" stroke-width="0.7" />
<text x="400.90" y="340.61" font-size="6.4" font-weight="normal" font-style="italic" text-anchor="end" fill="#222" >Roseburia intestinalis</text>
<line x1="402.00" y1="338.37" x2="409.20" y2="338.37" stroke="#555" stroke-width="0.7" />
<line x1="409.40" y1="346.00" x2="409.40" y2="350.50" stroke="#666" stroke-width="0.7" />
<text x="409.40" y="358.50" font-size="6.4" font-weight="normal" font-style="normal" text-anchor="middle" fill="#222" >5.0</text>
<line x1="439.38" y1="346.00" x2="439.38" y2="350.50" stroke="#666" stroke-width="0.7" />
<text x="439.38" y="358.50" font-size="6.4" font-weight="normal" font-style="normal" text-anchor="middle" fill="#222" >5.3</text>
<line x1="469.36" y1="346.00" x2="469.36" y2="350.50" stroke="#666" stroke-width="0.7" />
<text x="469.36" y="358.50" font-size="6.4" font-weight="normal" font-style="normal" text-anchor="middle" fill="#222" >5.6</text>
<line x1="499.34" y1="346.00" x2="499.34" y2="350.50" stroke="#666" stroke-width="0.7" />
<text x="499.34" y="358.50" font-size="6.4" font-weight="normal" font-style="normal" text-anchor="middle" fill="#222" >5.9</text>
<line x1="529.32" y1="346.00" x2="529.32" y2="350.50" stroke="#666" stroke-width="0.7" />
<text x="529.32" y="358.50" font-size="6.4" font-weight="normal" font-style="normal" text-anchor="middle" fill="#222" >6.2</text>
<line x1="559.30" y1="346.00" x2="559.30" y2="350.50" stroke="#666" stroke-width="0.7" />
<text x="559.30" y="358.50" font-size="6.4" font-weight="normal" font-style="normal" text-anchor="middle" fill="#222" >6.5</text>
<text x="484.00" y="369.00" font-size="8.4" font-weight="bold" font-style="normal" text-anchor="middle" fill="#000" >pH</text>
<rect x="569.00" y="162.70" width="9.10" height="183.50" fill="url(#vir)" stroke="none" stroke-width="1" />
<rect x="569.00" y="162.70" width="9.10" height="183.50" fill="none" stroke="#555" stroke-width="0.6" />
<line x1="578.10" y1="346.20" x2="584.10" y2="346.20" stroke="#555" stroke-width="0.7" />
<text x="587.30" y="348.47" font-size="6.3" font-weight="normal" font-style="normal" text-anchor="start" fill="#222" >0</text>
<line x1="578.10" y1="322.79" x2="584.10" y2="322.79" stroke="#555" stroke-width="0.7" />
<text x="587.30" y="325.06" font-size="6.3" font-weight="normal" font-style="normal" text-anchor="start" fill="#222" >2</text>
<line x1="578.10" y1="299.39" x2="584.10" y2="299.39" stroke="#555" stroke-width="0.7" />
<text x="587.30" y="301.66" font-size="6.3" font-weight="normal" font-style="normal" text-anchor="start" fill="#222" >4</text>
<line x1="578.10" y1="275.98" x2="584.10" y2="275.98" stroke="#555" stroke-width="0.7" />
<text x="587.30" y="278.25" font-size="6.3" font-weight="normal" font-style="normal" text-anchor="start" fill="#222" >6</text>
<line x1="578.10" y1="252.58" x2="584.10" y2="252.58" stroke="#555" stroke-width="0.7" />
<text x="587.30" y="254.85" font-size="6.3" font-weight="normal" font-style="normal" text-anchor="start" fill="#222" >8</text>
<line x1="578.10" y1="229.17" x2="584.10" y2="229.17" stroke="#555" stroke-width="0.7" />
<text x="587.30" y="231.44" font-size="6.3" font-weight="normal" font-style="normal" text-anchor="start" fill="#222" >10</text>
<line x1="578.10" y1="205.77" x2="584.10" y2="205.77" stroke="#555" stroke-width="0.7" />
<text x="587.30" y="208.03" font-size="6.3" font-weight="normal" font-style="normal" text-anchor="start" fill="#222" >12</text>
<line x1="578.10" y1="182.36" x2="584.10" y2="182.36" stroke="#555" stroke-width="0.7" />
<text x="587.30" y="184.63" font-size="6.3" font-weight="normal" font-style="normal" text-anchor="start" fill="#222" >14</text>
<line x1="578.10" y1="346.20" x2="579.70" y2="346.20" stroke="#555" stroke-width="0.6" />
<line x1="578.10" y1="340.35" x2="579.70" y2="340.35" stroke="#555" stroke-width="0.6" />
<line x1="578.10" y1="334.50" x2="579.70" y2="334.50" stroke="#555" stroke-width="0.6" />
<line x1="578.10" y1="328.65" x2="579.70" y2="328.65" stroke="#555" stroke-width="0.6" />
<line x1="578.10" y1="322.79" x2="579.70" y2="322.79" stroke="#555" stroke-width="0.6" />
<line x1="578.10" y1="316.94" x2="579.70" y2="316.94" stroke="#555" stroke-width="0.6" />
<line x1="578.10" y1="311.09" x2="579.70" y2="311.09" stroke="#555" stroke-width="0.6" />
<line x1="578.10" y1="305.24" x2="579.70" y2="305.24" stroke="#555" stroke-width="0.6" />
<line x1="578.10" y1="299.39" x2="579.70" y2="299.39" stroke="#555" stroke-width="0.6" />
<line x1="578.10" y1="293.54" x2="579.70" y2="293.54" stroke="#555" stroke-width="0.6" />
<line x1="578.10" y1="287.69" x2="579.70" y2="287.69" stroke="#555" stroke-width="0.6" />
<line x1="578.10" y1="281.83" x2="579.70" y2="281.83" stroke="#555" stroke-width="0.6" />
<line x1="578.10" y1="275.98" x2="579.70" y2="275.98" stroke="#555" stroke-width="0.6" />
<line x1="578.10" y1="270.13" x2="579.70" y2="270.13" stroke="#555" stroke-width="0.6" />
<line x1="578.10" y1="264.28" x2="579.70" y2="264.28" stroke="#555" stroke-width="0.6" />
<line x1="578.10" y1="258.43" x2="579.70" y2="258.43" stroke="#555" stroke-width="0.6" />
<line x1="578.10" y1="252.58" x2="579.70" y2="252.58" stroke="#555" stroke-width="0.6" />
<line x1="578.10" y1="246.73" x2="579.70" y2="246.73" stroke="#555" stroke-width="0.6" />
<line x1="578.10" y1="240.87" x2="579.70" y2="240.87" stroke="#555" stroke-width="0.6" />
<line x1="578.10" y1="235.02" x2="579.70" y2="235.02" stroke="#555" stroke-width="0.6" />
<line x1="578.10" y1="229.17" x2="579.70" y2="229.17" stroke="#555" stroke-width="0.6" />
<line x1="578.10" y1="223.32" x2="579.70" y2="223.32" stroke="#555" stroke-width="0.6" />
<line x1="578.10" y1="217.47" x2="579.70" y2="217.47" stroke="#555" stroke-width="0.6" />
<line x1="578.10" y1="211.62" x2="579.70" y2="211.62" stroke="#555" stroke-width="0.6" />
<line x1="578.10" y1="205.77" x2="579.70" y2="205.77" stroke="#555" stroke-width="0.6" />
<line x1="578.10" y1="199.91" x2="579.70" y2="199.91" stroke="#555" stroke-width="0.6" />
<line x1="578.10" y1="194.06" x2="579.70" y2="194.06" stroke="#555" stroke-width="0.6" />
<line x1="578.10" y1="188.21" x2="579.70" y2="188.21" stroke="#555" stroke-width="0.6" />
<line x1="578.10" y1="182.36" x2="579.70" y2="182.36" stroke="#555" stroke-width="0.6" />
<line x1="578.10" y1="176.51" x2="579.70" y2="176.51" stroke="#555" stroke-width="0.6" />
<line x1="578.10" y1="170.66" x2="579.70" y2="170.66" stroke="#555" stroke-width="0.6" />
<line x1="578.10" y1="164.81" x2="579.70" y2="164.81" stroke="#555" stroke-width="0.6" />
<text x="602.90" y="243.00" font-size="6.6" font-weight="bold" font-style="normal" text-anchor="middle" fill="#000" transform="rotate(-90 602.9 243)" dominant-baseline="central">in mM or 10<tspan dy="-2.5" font-size="4.5">5</tspan><tspan dy="2.5"> cells/uL</tspan></text>
<line x1="456.40" y1="134.40" x2="456.40" y2="348.00" stroke="#f0202a" stroke-width="2.3" stroke-dasharray="4.1,4"/>
<line x1="462.20" y1="134.40" x2="462.20" y2="348.00" stroke="#f0202a" stroke-width="2.3" stroke-dasharray="4.1,4"/>
<text x="35.20" y="385.20" font-size="8.2" font-weight="bold" font-style="normal" text-anchor="start" fill="#000" >dilution rate ( h<tspan dy="-3" font-size="5">-1</tspan><tspan dy="3">)</tspan></text>
<text x="118.70" y="385.20" font-size="9" font-weight="bold" font-style="normal" text-anchor="middle" fill="#000" >0.041</text>
<text x="146.90" y="385.20" font-size="9" font-weight="bold" font-style="normal" text-anchor="middle" fill="#000" >0.00</text>
<text x="176.20" y="385.20" font-size="9" font-weight="bold" font-style="normal" text-anchor="middle" fill="#000" >0.041</text>
<path d="M95.3,401.2 Q95.3,398.5 98.1,398.5 L111.60000000000001,398.5 C115.61500000000001,398.5 116.71000000000001,391.7 118.9,391.7 C121.09,391.7 122.185,398.5 126.2,398.5 L139.6,398.5 Q142.4,398.5 142.4,401.2" stroke="#222" stroke-width="1.6" fill="none" stroke-linejoin="round"/>
<path d="M150.4,401.2 Q150.4,398.5 153.20000000000002,398.5 L168.5,398.5 C172.51500000000001,398.5 173.61,391.7 175.8,391.7 C177.99,391.7 179.085,398.5 183.10000000000002,398.5 L197.2,398.5 Q200.0,398.5 200.0,401.2" stroke="#222" stroke-width="1.6" fill="none" stroke-linejoin="round"/>
<rect x="95.70" y="399.90" width="104.40" height="72.90" fill="#fff" stroke="#c8c8c8" stroke-width="0.8" />
<line x1="115.66" y1="399.90" x2="115.66" y2="472.80" stroke="#ececec" stroke-width="0.6" />
<line x1="136.32" y1="399.90" x2="136.32" y2="472.80" stroke="#ececec" stroke-width="0.6" />
<line x1="156.98" y1="399.90" x2="156.98" y2="472.80" stroke="#ececec" stroke-width="0.6" />
<line x1="177.64" y1="399.90" x2="177.64" y2="472.80" stroke="#ececec" stroke-width="0.6" />
<line x1="198.30" y1="399.90" x2="198.30" y2="472.80" stroke="#ececec" stroke-width="0.6" />
<line x1="95.70" y1="471.60" x2="200.10" y2="471.60" stroke="#ececec" stroke-width="0.6" />
<line x1="95.70" y1="455.10" x2="200.10" y2="455.10" stroke="#ececec" stroke-width="0.6" />
<line x1="95.70" y1="438.60" x2="200.10" y2="438.60" stroke="#ececec" stroke-width="0.6" />
<line x1="95.70" y1="422.10" x2="200.10" y2="422.10" stroke="#ececec" stroke-width="0.6" />
<line x1="95.70" y1="405.60" x2="200.10" y2="405.60" stroke="#ececec" stroke-width="0.6" />
<text x="95.00" y="480.30" font-size="6.9" font-weight="normal" font-style="normal" text-anchor="middle" fill="#444" >0</text>
<text x="115.66" y="480.30" font-size="6.9" font-weight="normal" font-style="normal" text-anchor="middle" fill="#444" >100</text>
<text x="136.32" y="480.30" font-size="6.9" font-weight="normal" font-style="normal" text-anchor="middle" fill="#444" >200</text>
<text x="156.98" y="480.30" font-size="6.9" font-weight="normal" font-style="normal" text-anchor="middle" fill="#444" >300</text>
<text x="177.64" y="480.30" font-size="6.9" font-weight="normal" font-style="normal" text-anchor="middle" fill="#444" >400</text>
<text x="198.30" y="480.30" font-size="6.9" font-weight="normal" font-style="normal" text-anchor="middle" fill="#444" >500</text>
<text x="89.70" y="474.08" font-size="6.9" font-weight="normal" font-style="normal" text-anchor="end" fill="#444" >0</text>
<text x="89.70" y="457.58" font-size="6.9" font-weight="normal" font-style="normal" text-anchor="end" fill="#444" >2</text>
<text x="89.70" y="441.08" font-size="6.9" font-weight="normal" font-style="normal" text-anchor="end" fill="#444" >4</text>
<text x="89.70" y="424.58" font-size="6.9" font-weight="normal" font-style="normal" text-anchor="end" fill="#444" >6</text>
<text x="89.70" y="408.08" font-size="6.9" font-weight="normal" font-style="normal" text-anchor="end" fill="#444" >8</text>
<path d="M96.86,471.60 L97.07,399.83 L97.07,399.83 L97.32,401.03 L97.58,402.76 L97.84,404.68 L98.10,406.43 L98.62,407.95 L99.13,409.42 L99.65,410.83 L100.17,412.20 L100.94,413.53 L101.71,414.83 L102.49,416.05 L103.26,417.15 L104.30,418.13 L105.33,419.02 L106.36,419.79 L107.40,420.45 L108.43,420.97 L109.46,421.36 L110.50,421.67 L111.53,421.94 L112.56,422.16 L113.59,422.32 L114.63,422.43 L115.66,422.51 L123.15,422.55 L130.64,422.55 L138.13,422.53 L145.62,422.51 L146.03,417.98 L146.34,405.60 L146.65,409.73 L147.27,442.73 L147.89,467.48 L150.78,469.95 L150.99,471.60 L151.20,452.62 L151.81,452.62 L151.81,452.62 L152.59,452.27 L153.36,451.77 L154.14,451.18 L154.91,450.56 L155.69,449.88 L156.46,449.12 L157.24,448.36 L158.01,447.68 L158.79,447.07 L159.56,446.51 L160.34,446.02 L161.11,445.61 L162.14,445.30 L163.18,445.07 L164.21,444.91 L165.24,444.79 L173.51,444.73 L181.77,444.74 L190.04,444.77 L198.30,444.79" stroke="#f8973a" stroke-width="1.15" fill="none" stroke-linejoin="round"/>
<path d="M96.86,471.60 L97.07,457.58 L97.07,457.58 L97.58,457.17 L98.10,456.60 L98.62,455.89 L99.13,455.10 L99.91,454.16 L100.68,453.06 L101.46,451.96 L102.23,450.98 L103.26,450.13 L104.30,449.35 L105.33,448.66 L106.36,448.09 L107.65,447.64 L108.95,447.30 L110.24,447.05 L111.53,446.85 L113.59,446.73 L115.66,446.69 L117.73,446.69 L119.79,446.69 L126.20,446.67 L132.60,446.67 L139.01,446.68 L145.41,446.69 L145.82,444.38 L146.24,441.90 L146.65,446.85 L147.27,459.23 L147.89,466.65 L149.13,470.78 L150.37,471.44 L198.30,471.44" stroke="#38bdf0" stroke-width="1.15" fill="none" stroke-linejoin="round"/>
<path d="M96.86,471.60 L96.86,471.60 L97.17,471.34 L97.48,470.98 L97.79,470.52 L98.10,469.95 L98.62,469.20 L99.13,468.30 L99.65,467.40 L100.17,466.65 L100.94,466.07 L101.71,465.59 L102.49,465.23 L103.26,465.00 L104.30,464.95 L105.33,465.07 L106.36,465.25 L107.40,465.41 L108.43,465.55 L109.46,465.71 L110.50,465.86 L111.53,465.99 L113.59,466.09 L115.66,466.18 L117.73,466.23 L119.79,466.24 L125.89,466.17 L131.98,466.05 L138.08,465.91 L144.17,465.83 L145.62,464.59 L149.75,464.18 L150.78,464.18 L150.99,444.79 L151.61,446.03 L154.91,446.85 L198.30,446.85" stroke="#f23cf2" stroke-width="1.15" fill="none" stroke-linejoin="round"/>
<rect x="142.10" y="386.90" width="8.10" height="85.90" fill="#333" stroke="none" stroke-width="1" fill-opacity="0.56"/>
<line x1="159.60" y1="415.00" x2="155.90" y2="415.00" stroke="#222" stroke-width="1.7" />
<polygon points="150.90,415.00 156.90,411.40 156.90,418.60" fill="#222"/>
<text x="161.80" y="418.10" font-size="8.1" font-weight="bold" font-style="normal" text-anchor="start" fill="#000" >stop feed</text>
<text x="78.60" y="438.80" font-size="8.35" font-weight="bold" font-style="normal" text-anchor="middle" fill="#000" transform="rotate(-90 78.6 438.8)" dominant-baseline="central">10<tspan dy="-3" font-size="5.2">5</tspan><tspan dy="3"> cells/uL</tspan></text>
<text x="145.80" y="492.60" font-size="8.55" font-weight="bold" font-style="normal" text-anchor="middle" fill="#000" >time (h)</text>
<rect x="243.70" y="404.10" width="124.90" height="47.40" fill="#fff" stroke="#222" stroke-width="1.4" />
<text x="306.30" y="425.20" font-size="11.3" font-weight="bold" font-style="normal" text-anchor="middle" fill="#000" >history dependence</text>
<text x="306.30" y="439.30" font-size="11.3" font-weight="bold" font-style="normal" text-anchor="middle" fill="#000" >(hysteresis)</text>
<line x1="237.00" y1="428.00" x2="213.00" y2="428.00" stroke="#222" stroke-width="2.6" />
<polygon points="204.00,428.00 214.00,422.50 214.00,433.50" fill="#222"/>
<line x1="374.00" y1="428.00" x2="403.50" y2="428.00" stroke="#222" stroke-width="2.6" />
<polygon points="412.50,428.00 402.50,433.50 402.50,422.50" fill="#222"/>
<text x="417.60" y="386.80" font-size="8.6" font-weight="bold" font-style="normal" text-anchor="start" fill="#000" >pH</text>
<text x="453.60" y="386.80" font-size="8.8" font-weight="bold" font-style="normal" text-anchor="middle" fill="#000" >5.60</text>
<text x="504.00" y="386.80" font-size="8.8" font-weight="bold" font-style="normal" text-anchor="middle" fill="#000" >5.47</text>
<path d="M440.7,397.8 Q440.7,395.8 442.9,395.8 L448.7,395.8 C452.10999999999996,395.8 453.03999999999996,390.3 454.9,390.3 C456.76,390.3 457.69,395.8 461.09999999999997,395.8 L466.0,395.8 Q468.2,395.8 468.2,397.8" stroke="#222" stroke-width="1.6" fill="none" stroke-linejoin="round"/>
<path d="M469.3,397.8 Q469.3,395.8 471.5,395.8 L497.8,395.8 C501.21,395.8 502.14,390.3 504.0,390.3 C505.86,390.3 506.79,395.8 510.2,395.8 L536.0999999999999,395.8 Q538.3,395.8 538.3,397.8" stroke="#222" stroke-width="1.6" fill="none" stroke-linejoin="round"/>
<rect x="440.20" y="399.50" width="98.10" height="71.60" fill="#fff" stroke="#c8c8c8" stroke-width="0.8" />
<line x1="442.30" y1="399.50" x2="442.30" y2="471.10" stroke="#ececec" stroke-width="0.6" />
<line x1="457.97" y1="399.50" x2="457.97" y2="471.10" stroke="#ececec" stroke-width="0.6" />
<line x1="473.63" y1="399.50" x2="473.63" y2="471.10" stroke="#ececec" stroke-width="0.6" />
<line x1="489.30" y1="399.50" x2="489.30" y2="471.10" stroke="#ececec" stroke-width="0.6" />
<line x1="504.96" y1="399.50" x2="504.96" y2="471.10" stroke="#ececec" stroke-width="0.6" />
<line x1="520.62" y1="399.50" x2="520.62" y2="471.10" stroke="#ececec" stroke-width="0.6" />
<line x1="536.29" y1="399.50" x2="536.29" y2="471.10" stroke="#ececec" stroke-width="0.6" />
<line x1="440.20" y1="469.40" x2="538.30" y2="469.40" stroke="#ececec" stroke-width="0.6" />
<line x1="440.20" y1="458.00" x2="538.30" y2="458.00" stroke="#ececec" stroke-width="0.6" />
<line x1="440.20" y1="446.60" x2="538.30" y2="446.60" stroke="#ececec" stroke-width="0.6" />
<line x1="440.20" y1="435.20" x2="538.30" y2="435.20" stroke="#ececec" stroke-width="0.6" />
<line x1="440.20" y1="423.80" x2="538.30" y2="423.80" stroke="#ececec" stroke-width="0.6" />
<line x1="440.20" y1="412.40" x2="538.30" y2="412.40" stroke="#ececec" stroke-width="0.6" />
<line x1="440.20" y1="401.00" x2="538.30" y2="401.00" stroke="#ececec" stroke-width="0.6" />
<text x="442.30" y="477.40" font-size="5.9" font-weight="normal" font-style="normal" text-anchor="middle" fill="#444" >0</text>
<text x="457.97" y="477.40" font-size="5.9" font-weight="normal" font-style="normal" text-anchor="middle" fill="#444" >50</text>
<text x="473.63" y="477.40" font-size="5.9" font-weight="normal" font-style="normal" text-anchor="middle" fill="#444" >100</text>
<text x="489.30" y="477.40" font-size="5.9" font-weight="normal" font-style="normal" text-anchor="middle" fill="#444" >150</text>
<text x="504.96" y="477.40" font-size="5.9" font-weight="normal" font-style="normal" text-anchor="middle" fill="#444" >200</text>
<text x="520.62" y="477.40" font-size="5.9" font-weight="normal" font-style="normal" text-anchor="middle" fill="#444" >250</text>
<text x="536.29" y="477.40" font-size="5.9" font-weight="normal" font-style="normal" text-anchor="middle" fill="#444" >300</text>
<text x="438.00" y="471.52" font-size="5.9" font-weight="normal" font-style="normal" text-anchor="end" fill="#444" >0</text>
<text x="438.00" y="460.12" font-size="5.9" font-weight="normal" font-style="normal" text-anchor="end" fill="#444" >2</text>
<text x="438.00" y="448.72" font-size="5.9" font-weight="normal" font-style="normal" text-anchor="end" fill="#444" >4</text>
<text x="438.00" y="437.32" font-size="5.9" font-weight="normal" font-style="normal" text-anchor="end" fill="#444" >6</text>
<text x="438.00" y="425.92" font-size="5.9" font-weight="normal" font-style="normal" text-anchor="end" fill="#444" >8</text>
<text x="438.00" y="414.52" font-size="5.9" font-weight="normal" font-style="normal" text-anchor="end" fill="#444" >10</text>
<text x="438.00" y="403.12" font-size="5.9" font-weight="normal" font-style="normal" text-anchor="end" fill="#444" >12</text>
<path d="M443.87,469.40 L444.81,453.44 L444.81,453.44 L445.12,450.67 L445.43,446.71 L445.75,442.26 L446.06,438.05 L446.37,434.12 L446.69,430.14 L447.00,426.27 L447.31,422.66 L447.78,419.28 L448.25,416.07 L448.72,413.16 L449.19,410.69 L449.82,408.76 L450.45,407.27 L451.07,406.07 L451.70,404.99 L452.87,404.02 L454.05,403.24 L455.22,402.63 L456.40,402.14 L457.34,401.82 L458.28,401.68 L459.22,401.62 L460.16,401.57 L460.16,401.57 L460.39,403.88 L460.63,407.16 L460.86,411.07 L461.10,415.25 L461.33,419.97 L461.57,425.30 L461.80,430.59 L462.04,435.20 L462.35,439.04 L462.66,442.43 L462.98,445.34 L463.29,447.74 L463.76,449.49 L464.23,450.66 L464.70,451.51 L465.17,452.30 L466.11,453.05 L467.05,453.64 L467.99,454.12 L468.93,454.58 L470.89,455.02 L472.85,455.42 L474.80,455.75 L476.76,456.00 L479.90,456.16 L483.03,456.24 L486.16,456.27 L489.30,456.29 L501.04,456.31 L512.79,456.31 L524.54,456.30 L536.29,456.29" stroke="#f8973a" stroke-width="1.1" fill="none" stroke-linejoin="round"/>
<path d="M443.55,469.40 L444.49,460.85 L445.12,443.18 L445.75,440.90 L446.37,441.47 L446.37,441.47 L446.76,442.31 L447.16,443.50 L447.55,444.96 L447.94,446.60 L448.49,448.53 L449.04,450.75 L449.58,453.03 L450.13,455.15 L450.92,457.14 L451.70,459.10 L452.48,460.87 L453.27,462.27 L454.05,463.23 L454.83,463.82 L455.62,464.22 L456.40,464.55 L457.18,464.81 L457.97,464.93 L458.75,465.00 L459.53,465.12 L459.92,465.27 L460.31,465.42 L460.71,465.63 L461.10,465.98 L461.41,466.58 L461.72,467.37 L462.04,468.14 L462.35,468.72 L462.82,469.02 L463.29,469.17 L463.76,469.23 L464.23,469.29 L482.25,469.33 L500.26,469.32 L518.28,469.30 L536.29,469.29" stroke="#38bdf0" stroke-width="1.1" fill="none" stroke-linejoin="round"/>
<path d="M443.55,469.40 L444.18,468.26 L444.18,468.26 L445.28,468.20 L446.37,468.12 L447.47,467.97 L448.57,467.69 L450.13,467.20 L451.70,466.55 L453.27,465.90 L454.83,465.41 L456.01,465.19 L457.18,465.12 L458.36,465.06 L459.53,464.84 L459.92,464.50 L460.31,464.09 L460.71,463.49 L461.10,462.56 L461.33,461.06 L461.57,459.14 L461.80,457.22 L462.04,455.72 L462.43,454.78 L462.82,454.15 L463.21,453.74 L463.60,453.44 L464.54,453.28 L465.48,453.30 L466.42,453.39 L467.36,453.44 L484.60,453.44 L501.83,453.44 L519.06,453.44 L536.29,453.44" stroke="#f23cf2" stroke-width="1.1" fill="none" stroke-linejoin="round"/>
<text x="426.30" y="437.80" font-size="8.4" font-weight="bold" font-style="normal" text-anchor="middle" fill="#000" transform="rotate(-90 426.3 437.8)" dominant-baseline="central">10<tspan dy="-3" font-size="5.2">5</tspan><tspan dy="3"> cells/uL</tspan></text>
<text x="491.90" y="491.80" font-size="8.55" font-weight="bold" font-style="normal" text-anchor="middle" fill="#000" >time (h)</text>
<rect x="561.60" y="396.30" width="117.70" height="71.50" fill="#fff" stroke="#333" stroke-width="1.3" />
<line x1="564.50" y1="411.30" x2="593.90" y2="411.30" stroke="#f818f8" stroke-width="2.0" />
<line x1="564.50" y1="432.50" x2="593.90" y2="432.50" stroke="#fb8b1a" stroke-width="2.0" />
<line x1="564.50" y1="455.90" x2="593.90" y2="455.90" stroke="#25c0f8" stroke-width="2.0" />
<text x="597.50" y="407.50" font-size="8.05" font-weight="bold" font-style="italic" text-anchor="start" fill="#000" >Blautia</text>
<text x="597.50" y="416.60" font-size="8.05" font-weight="bold" font-style="italic" text-anchor="start" fill="#000" >hydrogenotrophica</text>
<text x="597.50" y="430.40" font-size="8.05" font-weight="bold" font-style="italic" text-anchor="start" fill="#000" >Bacteroides</text>
<text x="597.50" y="440.00" font-size="8.05" font-weight="bold" font-style="italic" text-anchor="start" fill="#000" >thetaiotaomicron</text>
<text x="597.50" y="454.00" font-size="8.05" font-weight="bold" font-style="italic" text-anchor="start" fill="#000" >Roseburia</text>
<text x="597.50" y="463.60" font-size="8.05" font-weight="bold" font-style="italic" text-anchor="start" fill="#000" >intestinalis</text>
<text x="120.50" y="549.20" font-size="8.64" font-weight="bold" font-style="normal" text-anchor="middle" fill="#000" >mini-bioreactors</text>
<clipPath id="pclip"><rect x="74.9" y="557.9" width="84.9" height="66.10000000000002"/></clipPath>
<g clip-path="url(#pclip)"><g filter="url(#pblur)">
<rect x="74.90" y="557.90" width="84.90" height="66.10" fill="#dcdbd9" stroke="none" stroke-width="1" />
<rect x="74.90" y="557.90" width="84.90" height="15.70" fill="#8a8d8a" stroke="none" stroke-width="1" />
<rect x="81.10" y="557.90" width="7.60" height="15.90" fill="#ececec" stroke="none" stroke-width="1" />
<rect x="94.00" y="557.90" width="7.60" height="15.90" fill="#ececec" stroke="none" stroke-width="1" />
<rect x="107.30" y="557.90" width="7.60" height="15.90" fill="#ececec" stroke="none" stroke-width="1" />
<rect x="120.60" y="557.90" width="7.60" height="15.90" fill="#ececec" stroke="none" stroke-width="1" />
<rect x="133.80" y="557.90" width="7.60" height="15.90" fill="#ececec" stroke="none" stroke-width="1" />
<rect x="146.90" y="557.90" width="7.60" height="15.90" fill="#ececec" stroke="none" stroke-width="1" />
<circle cx="78.3" cy="564.4" r="2.6" fill="#1f6b66"/>
<rect x="75.50" y="567.50" width="5.00" height="6.00" fill="#b8bab8" stroke="none" stroke-width="1" />
<rect x="101.80" y="561.90" width="5.50" height="11.70" fill="#6f726f" stroke="none" stroke-width="1" />
<rect x="103.50" y="563.90" width="2.20" height="9.00" fill="#3a3a3a" stroke="none" stroke-width="1" />
<rect x="114.80" y="566.00" width="5.50" height="6.50" fill="#262626" stroke="none" stroke-width="1" />
<rect x="128.50" y="560.90" width="5.00" height="12.70" fill="#5d605d" stroke="none" stroke-width="1" />
<rect x="141.50" y="562.90" width="5.00" height="10.70" fill="#4a4c4a" stroke="none" stroke-width="1" />
<rect x="154.50" y="560.90" width="5.30" height="12.70" fill="#7d807d" stroke="none" stroke-width="1" />
<rect x="74.90" y="573.60" width="84.90" height="45.50" fill="#cfcecc" stroke="none" stroke-width="1" />
<rect x="77.00" y="573.60" width="13.40" height="45.50" fill="#dad9d7" stroke="none" stroke-width="1" />
<rect x="77.00" y="573.60" width="0.80" height="45.50" fill="#b0afad" stroke="none" stroke-width="1" />
<rect x="79.50" y="582.00" width="8.50" height="17.00" fill="#a9a8a6" stroke="none" stroke-width="1" opacity="0.55" rx="3"/>
<rect x="81.50" y="576.00" width="3.50" height="10.00" fill="#bdbcba" stroke="none" stroke-width="1" opacity="0.6"/>
<rect x="90.80" y="573.60" width="13.40" height="45.50" fill="#dad9d7" stroke="none" stroke-width="1" />
<rect x="90.80" y="573.60" width="0.80" height="45.50" fill="#b0afad" stroke="none" stroke-width="1" />
<rect x="93.30" y="582.00" width="8.50" height="17.00" fill="#a9a8a6" stroke="none" stroke-width="1" opacity="0.55" rx="3"/>
<rect x="95.30" y="576.00" width="3.50" height="10.00" fill="#bdbcba" stroke="none" stroke-width="1" opacity="0.6"/>
<rect x="104.60" y="573.60" width="13.40" height="45.50" fill="#dad9d7" stroke="none" stroke-width="1" />
<rect x="104.60" y="573.60" width="0.80" height="45.50" fill="#b0afad" stroke="none" stroke-width="1" />
<rect x="107.10" y="582.00" width="8.50" height="17.00" fill="#a9a8a6" stroke="none" stroke-width="1" opacity="0.55" rx="3"/>
<rect x="109.10" y="576.00" width="3.50" height="10.00" fill="#bdbcba" stroke="none" stroke-width="1" opacity="0.6"/>
<rect x="118.40" y="573.60" width="13.40" height="45.50" fill="#dad9d7" stroke="none" stroke-width="1" />
<rect x="118.40" y="573.60" width="0.80" height="45.50" fill="#b0afad" stroke="none" stroke-width="1" />
<rect x="120.90" y="582.00" width="8.50" height="17.00" fill="#a9a8a6" stroke="none" stroke-width="1" opacity="0.55" rx="3"/>
<rect x="122.90" y="576.00" width="3.50" height="10.00" fill="#bdbcba" stroke="none" stroke-width="1" opacity="0.6"/>
<rect x="132.20" y="573.60" width="13.40" height="45.50" fill="#dad9d7" stroke="none" stroke-width="1" />
<rect x="132.20" y="573.60" width="0.80" height="45.50" fill="#b0afad" stroke="none" stroke-width="1" />
<rect x="134.70" y="582.00" width="8.50" height="17.00" fill="#a9a8a6" stroke="none" stroke-width="1" opacity="0.55" rx="3"/>
<rect x="136.70" y="576.00" width="3.50" height="10.00" fill="#bdbcba" stroke="none" stroke-width="1" opacity="0.6"/>
<rect x="146.00" y="573.60" width="13.40" height="45.50" fill="#dad9d7" stroke="none" stroke-width="1" />
<rect x="146.00" y="573.60" width="0.80" height="45.50" fill="#b0afad" stroke="none" stroke-width="1" />
<rect x="148.50" y="582.00" width="8.50" height="17.00" fill="#a9a8a6" stroke="none" stroke-width="1" opacity="0.55" rx="3"/>
<rect x="150.50" y="576.00" width="3.50" height="10.00" fill="#bdbcba" stroke="none" stroke-width="1" opacity="0.6"/>
<rect x="77.40" y="602.80" width="12.80" height="15.80" fill="#c2a477" stroke="none" stroke-width="1" />
<rect x="77.40" y="602.80" width="12.80" height="1.80" fill="#cfb78f" stroke="none" stroke-width="1" />
<rect x="78.50" y="605.00" width="2.00" height="12.00" fill="#cdb28a" stroke="none" stroke-width="1" opacity="0.6"/>
<rect x="91.20" y="602.80" width="12.80" height="15.80" fill="#c2a477" stroke="none" stroke-width="1" />
<rect x="91.20" y="602.80" width="12.80" height="1.80" fill="#cfb78f" stroke="none" stroke-width="1" />
<rect x="92.30" y="605.00" width="2.00" height="12.00" fill="#cdb28a" stroke="none" stroke-width="1" opacity="0.6"/>
<rect x="105.00" y="602.80" width="12.80" height="15.80" fill="#c2a477" stroke="none" stroke-width="1" />
<rect x="105.00" y="602.80" width="12.80" height="1.80" fill="#cfb78f" stroke="none" stroke-width="1" />
<rect x="106.10" y="605.00" width="2.00" height="12.00" fill="#cdb28a" stroke="none" stroke-width="1" opacity="0.6"/>
<rect x="118.80" y="602.80" width="12.80" height="15.80" fill="#c2a477" stroke="none" stroke-width="1" />
<rect x="118.80" y="602.80" width="12.80" height="1.80" fill="#cfb78f" stroke="none" stroke-width="1" />
<rect x="119.90" y="605.00" width="2.00" height="12.00" fill="#cdb28a" stroke="none" stroke-width="1" opacity="0.6"/>
<rect x="132.60" y="602.80" width="12.80" height="15.80" fill="#c2a477" stroke="none" stroke-width="1" />
<rect x="132.60" y="602.80" width="12.80" height="1.80" fill="#cfb78f" stroke="none" stroke-width="1" />
<rect x="133.70" y="605.00" width="2.00" height="12.00" fill="#cdb28a" stroke="none" stroke-width="1" opacity="0.6"/>
<rect x="146.40" y="602.80" width="12.80" height="15.80" fill="#c2a477" stroke="none" stroke-width="1" />
<rect x="146.40" y="602.80" width="12.80" height="1.80" fill="#cfb78f" stroke="none" stroke-width="1" />
<rect x="147.50" y="605.00" width="2.00" height="12.00" fill="#cdb28a" stroke="none" stroke-width="1" opacity="0.6"/>
<rect x="74.90" y="618.50" width="84.90" height="7.50" fill="#ecebe8" stroke="none" stroke-width="1" />
</g></g>
<text x="180.5" y="591.1" font-size="10.95" fill="#111"><tspan font-weight="bold" font-size="10.15">Control conditions</tspan>: temperature set</text>
<text x="180.5" y="604.0" font-size="10.95" fill="#111">to 37<tspan dy="-3.5" font-size="6.5">0</tspan><tspan dy="3.5">C, pH&#160; uncontrolled (approx.</tspan></text>
<text x="180.5" y="616.9" font-size="10.95" fill="#111">5.5), dilution rate set to 0.04.</text>
<text x="359.9" y="539.30" font-size="10.95" fill="#111"><tspan font-weight="bold" font-size="10.15">Feed perturbation</tspan>:</text>
<text x="359.9" y="552.20" font-size="10.95" fill="#111">control conditions for 108 h,</text>
<text x="359.9" y="565.10" font-size="10.95" fill="#111">then dilution rate set to 0.0</text>
<text x="359.9" y="578.00" font-size="10.95" fill="#111">for 12 h, then control</text>
<text x="359.9" y="590.90" font-size="10.95" fill="#111">conditions.</text>
<text x="522.3" y="575.90" font-size="10.95" fill="#111"><tspan font-weight="bold" font-size="10.35">pH/feed perturbations</tspan>:</text>
<text x="522.3" y="588.80" font-size="10.95" fill="#111">control conditions for 88h,</text>
<text x="522.3" y="601.70" font-size="10.95" fill="#111">then fed with acidified</text>
<text x="522.3" y="614.60" font-size="10.95" fill="#111">medium (pH 3.3) for 24 h,</text>
<text x="522.3" y="627.50" font-size="10.95" fill="#111">then dilution rate set to</text>
<text x="522.3" y="640.40" font-size="10.95" fill="#111">0.0 for 12 h, then return to</text>
<text x="522.3" y="653.30" font-size="10.95" fill="#111">control conditions.</text>
<path d="M179.7,626.1 L256.5,626.1 C261.5,626.1 262.8,623.8 263.7,620.8 Q264.9,617.4 266.1,620.8 C267.0,623.8 268.3,626.1 273.3,626.1 L350.9,626.1" stroke="#222" stroke-width="2.6" fill="none" />
<path d="M373.5,625.4 L384,625.4 C390,625.4 392.7,621.5 392.7,612 M392.7,612 C392.7,621.5 395.4,625.4 401.4,625.4 L412,625.4" stroke="#222" stroke-width="2.7" fill="none" />
<path d="M392.7,613 L392.7,598.6" stroke="#222" stroke-width="3.3" fill="none" stroke-linecap="round"/>
<path d="M425,627 L447,627 C452,627 458,624.5 463.2,622" stroke="#222" stroke-width="2.6" fill="none" />
<path d="M463.2,622 L509.7,606.2" stroke="#222" stroke-width="4.2" fill="none" stroke-linecap="round"/>
<path d="M463.5,622.5 Q461.5,625 463.5,628" stroke="#222" stroke-width="1.5" fill="none" />
<rect x="179.00" y="630.90" width="7.32" height="25.72" fill="#440154" stroke="none" stroke-width="1" />
<rect x="186.17" y="630.90" width="7.32" height="25.72" fill="#440154" stroke="none" stroke-width="1" />
<rect x="193.34" y="630.90" width="7.32" height="25.72" fill="#440154" stroke="none" stroke-width="1" />
<rect x="200.51" y="630.90" width="7.32" height="25.72" fill="#440154" stroke="none" stroke-width="1" />
<rect x="207.68" y="630.90" width="7.32" height="25.72" fill="#440154" stroke="none" stroke-width="1" />
<rect x="214.85" y="630.90" width="7.32" height="25.72" fill="#440154" stroke="none" stroke-width="1" />
<rect x="222.02" y="630.90" width="7.32" height="25.72" fill="#440154" stroke="none" stroke-width="1" />
<rect x="229.19" y="630.90" width="7.32" height="25.72" fill="#440154" stroke="none" stroke-width="1" />
<rect x="236.36" y="630.90" width="7.32" height="25.72" fill="#440154" stroke="none" stroke-width="1" />
<rect x="243.53" y="630.90" width="7.32" height="25.72" fill="#440154" stroke="none" stroke-width="1" />
<rect x="250.70" y="630.90" width="7.32" height="25.72" fill="#440154" stroke="none" stroke-width="1" />
<rect x="257.87" y="630.90" width="7.32" height="25.72" fill="#440154" stroke="none" stroke-width="1" />
<rect x="265.04" y="630.90" width="7.32" height="25.72" fill="#440154" stroke="none" stroke-width="1" />
<rect x="272.21" y="630.90" width="7.32" height="25.72" fill="#440154" stroke="none" stroke-width="1" />
<rect x="279.38" y="630.90" width="7.32" height="25.72" fill="#440154" stroke="none" stroke-width="1" />
<rect x="286.55" y="630.90" width="7.32" height="25.72" fill="#440154" stroke="none" stroke-width="1" />
<rect x="293.72" y="630.90" width="7.32" height="25.72" fill="#440154" stroke="none" stroke-width="1" />
<rect x="300.89" y="630.90" width="7.32" height="25.72" fill="#440154" stroke="none" stroke-width="1" />
<rect x="308.06" y="630.90" width="7.32" height="25.72" fill="#440154" stroke="none" stroke-width="1" />
<rect x="315.23" y="630.90" width="7.32" height="25.72" fill="#440154" stroke="none" stroke-width="1" />
<rect x="322.40" y="630.90" width="7.32" height="25.72" fill="#440154" stroke="none" stroke-width="1" />
<rect x="329.57" y="630.90" width="7.32" height="25.72" fill="#440154" stroke="none" stroke-width="1" />
<rect x="336.74" y="630.90" width="7.32" height="25.72" fill="#440154" stroke="none" stroke-width="1" />
<rect x="343.91" y="630.90" width="7.32" height="25.72" fill="#440154" stroke="none" stroke-width="1" />
<rect x="179.00" y="656.47" width="7.32" height="25.72" fill="#440154" stroke="none" stroke-width="1" />
<rect x="186.17" y="656.47" width="7.32" height="25.72" fill="#440154" stroke="none" stroke-width="1" />
<rect x="193.34" y="656.47" width="7.32" height="25.72" fill="#440154" stroke="none" stroke-width="1" />
<rect x="200.51" y="656.47" width="7.32" height="25.72" fill="#440154" stroke="none" stroke-width="1" />
<rect x="207.68" y="656.47" width="7.32" height="25.72" fill="#440154" stroke="none" stroke-width="1" />
<rect x="214.85" y="656.47" width="7.32" height="25.72" fill="#440154" stroke="none" stroke-width="1" />
<rect x="222.02" y="656.47" width="7.32" height="25.72" fill="#440154" stroke="none" stroke-width="1" />
<rect x="229.19" y="656.47" width="7.32" height="25.72" fill="#440154" stroke="none" stroke-width="1" />
<rect x="236.36" y="656.47" width="7.32" height="25.72" fill="#440154" stroke="none" stroke-width="1" />
<rect x="243.53" y="656.47" width="7.32" height="25.72" fill="#440154" stroke="none" stroke-width="1" />
<rect x="250.70" y="656.47" width="7.32" height="25.72" fill="#440154" stroke="none" stroke-width="1" />
<rect x="257.87" y="656.47" width="7.32" height="25.72" fill="#440154" stroke="none" stroke-width="1" />
<rect x="265.04" y="656.47" width="7.32" height="25.72" fill="#440154" stroke="none" stroke-width="1" />
<rect x="272.21" y="656.47" width="7.32" height="25.72" fill="#440154" stroke="none" stroke-width="1" />
<rect x="279.38" y="656.47" width="7.32" height="25.72" fill="#440154" stroke="none" stroke-width="1" />
<rect x="286.55" y="656.47" width="7.32" height="25.72" fill="#440154" stroke="none" stroke-width="1" />
<rect x="293.72" y="656.47" width="7.32" height="25.72" fill="#440154" stroke="none" stroke-width="1" />
<rect x="300.89" y="656.47" width="7.32" height="25.72" fill="#440154" stroke="none" stroke-width="1" />
<rect x="308.06" y="656.47" width="7.32" height="25.72" fill="#440154" stroke="none" stroke-width="1" />
<rect x="315.23" y="656.47" width="7.32" height="25.72" fill="#440154" stroke="none" stroke-width="1" />
<rect x="322.40" y="656.47" width="7.32" height="25.72" fill="#440154" stroke="none" stroke-width="1" />
<rect x="329.57" y="656.47" width="7.32" height="25.72" fill="#440154" stroke="none" stroke-width="1" />
<rect x="336.74" y="656.47" width="7.32" height="25.72" fill="#440154" stroke="none" stroke-width="1" />
<rect x="343.91" y="656.47" width="7.32" height="25.72" fill="#440154" stroke="none" stroke-width="1" />
<rect x="179.00" y="682.04" width="7.32" height="25.72" fill="#440154" stroke="none" stroke-width="1" />
<rect x="186.17" y="682.04" width="7.32" height="25.72" fill="#440154" stroke="none" stroke-width="1" />
<rect x="193.34" y="682.04" width="7.32" height="25.72" fill="#440154" stroke="none" stroke-width="1" />
<rect x="200.51" y="682.04" width="7.32" height="25.72" fill="#440154" stroke="none" stroke-width="1" />
<rect x="207.68" y="682.04" width="7.32" height="25.72" fill="#440154" stroke="none" stroke-width="1" />
<rect x="214.85" y="682.04" width="7.32" height="25.72" fill="#440154" stroke="none" stroke-width="1" />
<rect x="222.02" y="682.04" width="7.32" height="25.72" fill="#440154" stroke="none" stroke-width="1" />
<rect x="229.19" y="682.04" width="7.32" height="25.72" fill="#440154" stroke="none" stroke-width="1" />
<rect x="236.36" y="682.04" width="7.32" height="25.72" fill="#440154" stroke="none" stroke-width="1" />
<rect x="243.53" y="682.04" width="7.32" height="25.72" fill="#440154" stroke="none" stroke-width="1" />
<rect x="250.70" y="682.04" width="7.32" height="25.72" fill="#440154" stroke="none" stroke-width="1" />
<rect x="257.87" y="682.04" width="7.32" height="25.72" fill="#440154" stroke="none" stroke-width="1" />
<rect x="265.04" y="682.04" width="7.32" height="25.72" fill="#440154" stroke="none" stroke-width="1" />
<rect x="272.21" y="682.04" width="7.32" height="25.72" fill="#440154" stroke="none" stroke-width="1" />
<rect x="279.38" y="682.04" width="7.32" height="25.72" fill="#440154" stroke="none" stroke-width="1" />
<rect x="286.55" y="682.04" width="7.32" height="25.72" fill="#440154" stroke="none" stroke-width="1" />
<rect x="293.72" y="682.04" width="7.32" height="25.72" fill="#440154" stroke="none" stroke-width="1" />
<rect x="300.89" y="682.04" width="7.32" height="25.72" fill="#440154" stroke="none" stroke-width="1" />
<rect x="308.06" y="682.04" width="7.32" height="25.72" fill="#440154" stroke="none" stroke-width="1" />
<rect x="315.23" y="682.04" width="7.32" height="25.72" fill="#440154" stroke="none" stroke-width="1" />
<rect x="322.40" y="682.04" width="7.32" height="25.72" fill="#440154" stroke="none" stroke-width="1" />
<rect x="329.57" y="682.04" width="7.32" height="25.72" fill="#440154" stroke="none" stroke-width="1" />
<rect x="336.74" y="682.04" width="7.32" height="25.72" fill="#440154" stroke="none" stroke-width="1" />
<rect x="343.91" y="682.04" width="7.32" height="25.72" fill="#440154" stroke="none" stroke-width="1" />
<rect x="179.00" y="707.61" width="7.32" height="25.72" fill="#21918c" stroke="none" stroke-width="1" />
<rect x="186.17" y="707.61" width="7.32" height="25.72" fill="#40bd72" stroke="none" stroke-width="1" />
<rect x="193.34" y="707.61" width="7.32" height="25.72" fill="#44bf70" stroke="none" stroke-width="1" />
<rect x="200.51" y="707.61" width="7.32" height="25.72" fill="#3dbc74" stroke="none" stroke-width="1" />
<rect x="207.68" y="707.61" width="7.32" height="25.72" fill="#1f968b" stroke="none" stroke-width="1" />
<rect x="214.85" y="707.61" width="7.32" height="25.72" fill="#2ab07f" stroke="none" stroke-width="1" />
<rect x="222.02" y="707.61" width="7.32" height="25.72" fill="#fde725" stroke="none" stroke-width="1" />
<rect x="229.19" y="707.61" width="7.32" height="25.72" fill="#fde725" stroke="none" stroke-width="1" />
<rect x="236.36" y="707.61" width="7.32" height="25.72" fill="#fde725" stroke="none" stroke-width="1" />
<rect x="243.53" y="707.61" width="7.32" height="25.72" fill="#fde725" stroke="none" stroke-width="1" />
<rect x="250.70" y="707.61" width="7.32" height="25.72" fill="#fde725" stroke="none" stroke-width="1" />
<rect x="257.87" y="707.61" width="7.32" height="25.72" fill="#fde725" stroke="none" stroke-width="1" />
<rect x="265.04" y="707.61" width="7.32" height="25.72" fill="#fde725" stroke="none" stroke-width="1" />
<rect x="272.21" y="707.61" width="7.32" height="25.72" fill="#fde725" stroke="none" stroke-width="1" />
<rect x="279.38" y="707.61" width="7.32" height="25.72" fill="#fde725" stroke="none" stroke-width="1" />
<rect x="286.55" y="707.61" width="7.32" height="25.72" fill="#fde725" stroke="none" stroke-width="1" />
<rect x="293.72" y="707.61" width="7.32" height="25.72" fill="#fde725" stroke="none" stroke-width="1" />
<rect x="300.89" y="707.61" width="7.32" height="25.72" fill="#fde725" stroke="none" stroke-width="1" />
<rect x="308.06" y="707.61" width="7.32" height="25.72" fill="#fde725" stroke="none" stroke-width="1" />
<rect x="315.23" y="707.61" width="7.32" height="25.72" fill="#fde725" stroke="none" stroke-width="1" />
<rect x="322.40" y="707.61" width="7.32" height="25.72" fill="#fde725" stroke="none" stroke-width="1" />
<rect x="329.57" y="707.61" width="7.32" height="25.72" fill="#fde725" stroke="none" stroke-width="1" />
<rect x="336.74" y="707.61" width="7.32" height="25.72" fill="#fde725" stroke="none" stroke-width="1" />
<rect x="343.91" y="707.61" width="7.32" height="25.72" fill="#fde725" stroke="none" stroke-width="1" />
<rect x="179.00" y="733.18" width="7.32" height="25.72" fill="#472f7d" stroke="none" stroke-width="1" />
<rect x="186.17" y="733.18" width="7.32" height="25.72" fill="#46085c" stroke="none" stroke-width="1" />
<rect x="193.34" y="733.18" width="7.32" height="25.72" fill="#46085c" stroke="none" stroke-width="1" />
<rect x="200.51" y="733.18" width="7.32" height="25.72" fill="#46085c" stroke="none" stroke-width="1" />
<rect x="207.68" y="733.18" width="7.32" height="25.72" fill="#450457" stroke="none" stroke-width="1" />
<rect x="214.85" y="733.18" width="7.32" height="25.72" fill="#46085c" stroke="none" stroke-width="1" />
<rect x="222.02" y="733.18" width="7.32" height="25.72" fill="#433e85" stroke="none" stroke-width="1" />
<rect x="229.19" y="733.18" width="7.32" height="25.72" fill="#414487" stroke="none" stroke-width="1" />
<rect x="236.36" y="733.18" width="7.32" height="25.72" fill="#453781" stroke="none" stroke-width="1" />
<rect x="243.53" y="733.18" width="7.32" height="25.72" fill="#3f4788" stroke="none" stroke-width="1" />
<rect x="250.70" y="733.18" width="7.32" height="25.72" fill="#481a6c" stroke="none" stroke-width="1" />
<rect x="257.87" y="733.18" width="7.32" height="25.72" fill="#472d7b" stroke="none" stroke-width="1" />
<rect x="265.04" y="733.18" width="7.32" height="25.72" fill="#472f7d" stroke="none" stroke-width="1" />
<rect x="272.21" y="733.18" width="7.32" height="25.72" fill="#433e85" stroke="none" stroke-width="1" />
<rect x="279.38" y="733.18" width="7.32" height="25.72" fill="#443a83" stroke="none" stroke-width="1" />
<rect x="286.55" y="733.18" width="7.32" height="25.72" fill="#404688" stroke="none" stroke-width="1" />
<rect x="293.72" y="733.18" width="7.32" height="25.72" fill="#23a083" stroke="none" stroke-width="1" />
<rect x="300.89" y="733.18" width="7.32" height="25.72" fill="#3e4989" stroke="none" stroke-width="1" />
<rect x="308.06" y="733.18" width="7.32" height="25.72" fill="#414487" stroke="none" stroke-width="1" />
<rect x="315.23" y="733.18" width="7.32" height="25.72" fill="#433e85" stroke="none" stroke-width="1" />
<rect x="322.40" y="733.18" width="7.32" height="25.72" fill="#472e7c" stroke="none" stroke-width="1" />
<rect x="329.57" y="733.18" width="7.32" height="25.72" fill="#3b528b" stroke="none" stroke-width="1" />
<rect x="336.74" y="733.18" width="7.32" height="25.72" fill="#3e4a89" stroke="none" stroke-width="1" />
<rect x="343.91" y="733.18" width="7.32" height="25.72" fill="#440154" stroke="none" stroke-width="1" />
<rect x="179.00" y="758.75" width="7.32" height="25.72" fill="#46337f" stroke="none" stroke-width="1" />
<rect x="186.17" y="758.75" width="7.32" height="25.72" fill="#433e85" stroke="none" stroke-width="1" />
<rect x="193.34" y="758.75" width="7.32" height="25.72" fill="#433e85" stroke="none" stroke-width="1" />
<rect x="200.51" y="758.75" width="7.32" height="25.72" fill="#414487" stroke="none" stroke-width="1" />
<rect x="207.68" y="758.75" width="7.32" height="25.72" fill="#453882" stroke="none" stroke-width="1" />
<rect x="214.85" y="758.75" width="7.32" height="25.72" fill="#433e85" stroke="none" stroke-width="1" />
<rect x="222.02" y="758.75" width="7.32" height="25.72" fill="#3f4788" stroke="none" stroke-width="1" />
<rect x="229.19" y="758.75" width="7.32" height="25.72" fill="#3e4989" stroke="none" stroke-width="1" />
<rect x="236.36" y="758.75" width="7.32" height="25.72" fill="#433e85" stroke="none" stroke-width="1" />
<rect x="243.53" y="758.75" width="7.32" height="25.72" fill="#3b528b" stroke="none" stroke-width="1" />
<rect x="250.70" y="758.75" width="7.32" height="25.72" fill="#472d7b" stroke="none" stroke-width="1" />
<rect x="257.87" y="758.75" width="7.32" height="25.72" fill="#414487" stroke="none" stroke-width="1" />
<rect x="265.04" y="758.75" width="7.32" height="25.72" fill="#3e4a89" stroke="none" stroke-width="1" />
<rect x="272.21" y="758.75" width="7.32" height="25.72" fill="#3f4788" stroke="none" stroke-width="1" />
<rect x="279.38" y="758.75" width="7.32" height="25.72" fill="#414487" stroke="none" stroke-width="1" />
<rect x="286.55" y="758.75" width="7.32" height="25.72" fill="#3d4d8a" stroke="none" stroke-width="1" />
<rect x="293.72" y="758.75" width="7.32" height="25.72" fill="#375a8c" stroke="none" stroke-width="1" />
<rect x="300.89" y="758.75" width="7.32" height="25.72" fill="#3e4989" stroke="none" stroke-width="1" />
<rect x="308.06" y="758.75" width="7.32" height="25.72" fill="#404588" stroke="none" stroke-width="1" />
<rect x="315.23" y="758.75" width="7.32" height="25.72" fill="#453882" stroke="none" stroke-width="1" />
<rect x="322.40" y="758.75" width="7.32" height="25.72" fill="#433e85" stroke="none" stroke-width="1" />
<rect x="329.57" y="758.75" width="7.32" height="25.72" fill="#46327e" stroke="none" stroke-width="1" />
<rect x="336.74" y="758.75" width="7.32" height="25.72" fill="#443983" stroke="none" stroke-width="1" />
<rect x="343.91" y="758.75" width="7.32" height="25.72" fill="#423f85" stroke="none" stroke-width="1" />
<rect x="179.00" y="784.32" width="7.32" height="25.72" fill="#482475" stroke="none" stroke-width="1" />
<rect x="186.17" y="784.32" width="7.32" height="25.72" fill="#46327e" stroke="none" stroke-width="1" />
<rect x="193.34" y="784.32" width="7.32" height="25.72" fill="#472e7c" stroke="none" stroke-width="1" />
<rect x="200.51" y="784.32" width="7.32" height="25.72" fill="#472d7b" stroke="none" stroke-width="1" />
<rect x="207.68" y="784.32" width="7.32" height="25.72" fill="#453882" stroke="none" stroke-width="1" />
<rect x="214.85" y="784.32" width="7.32" height="25.72" fill="#46337f" stroke="none" stroke-width="1" />
<rect x="222.02" y="784.32" width="7.32" height="25.72" fill="#481769" stroke="none" stroke-width="1" />
<rect x="229.19" y="784.32" width="7.32" height="25.72" fill="#481769" stroke="none" stroke-width="1" />
<rect x="236.36" y="784.32" width="7.32" height="25.72" fill="#481a6c" stroke="none" stroke-width="1" />
<rect x="243.53" y="784.32" width="7.32" height="25.72" fill="#481b6d" stroke="none" stroke-width="1" />
<rect x="250.70" y="784.32" width="7.32" height="25.72" fill="#481467" stroke="none" stroke-width="1" />
<rect x="257.87" y="784.32" width="7.32" height="25.72" fill="#481769" stroke="none" stroke-width="1" />
<rect x="265.04" y="784.32" width="7.32" height="25.72" fill="#481769" stroke="none" stroke-width="1" />
<rect x="272.21" y="784.32" width="7.32" height="25.72" fill="#481769" stroke="none" stroke-width="1" />
<rect x="279.38" y="784.32" width="7.32" height="25.72" fill="#481769" stroke="none" stroke-width="1" />
<rect x="286.55" y="784.32" width="7.32" height="25.72" fill="#481769" stroke="none" stroke-width="1" />
<rect x="293.72" y="784.32" width="7.32" height="25.72" fill="#481467" stroke="none" stroke-width="1" />
<rect x="300.89" y="784.32" width="7.32" height="25.72" fill="#481467" stroke="none" stroke-width="1" />
<rect x="308.06" y="784.32" width="7.32" height="25.72" fill="#46085c" stroke="none" stroke-width="1" />
<rect x="315.23" y="784.32" width="7.32" height="25.72" fill="#46085c" stroke="none" stroke-width="1" />
<rect x="322.40" y="784.32" width="7.32" height="25.72" fill="#440154" stroke="none" stroke-width="1" />
<rect x="329.57" y="784.32" width="7.32" height="25.72" fill="#450559" stroke="none" stroke-width="1" />
<rect x="336.74" y="784.32" width="7.32" height="25.72" fill="#46085c" stroke="none" stroke-width="1" />
<rect x="343.91" y="784.32" width="7.32" height="25.72" fill="#482173" stroke="none" stroke-width="1" />
<rect x="179.00" y="809.89" width="7.32" height="25.72" fill="#fde725" stroke="none" stroke-width="1" />
<rect x="186.17" y="809.89" width="7.32" height="25.72" fill="#fde725" stroke="none" stroke-width="1" />
<rect x="193.34" y="809.89" width="7.32" height="25.72" fill="#fde725" stroke="none" stroke-width="1" />
<rect x="200.51" y="809.89" width="7.32" height="25.72" fill="#fde725" stroke="none" stroke-width="1" />
<rect x="207.68" y="809.89" width="7.32" height="25.72" fill="#fde725" stroke="none" stroke-width="1" />
<rect x="214.85" y="809.89" width="7.32" height="25.72" fill="#fde725" stroke="none" stroke-width="1" />
<rect x="222.02" y="809.89" width="7.32" height="25.72" fill="#fde725" stroke="none" stroke-width="1" />
<rect x="229.19" y="809.89" width="7.32" height="25.72" fill="#fde725" stroke="none" stroke-width="1" />
<rect x="236.36" y="809.89" width="7.32" height="25.72" fill="#fde725" stroke="none" stroke-width="1" />
<rect x="243.53" y="809.89" width="7.32" height="25.72" fill="#fde725" stroke="none" stroke-width="1" />
<rect x="250.70" y="809.89" width="7.32" height="25.72" fill="#c2df23" stroke="none" stroke-width="1" />
<rect x="257.87" y="809.89" width="7.32" height="25.72" fill="#fde725" stroke="none" stroke-width="1" />
<rect x="265.04" y="809.89" width="7.32" height="25.72" fill="#fde725" stroke="none" stroke-width="1" />
<rect x="272.21" y="809.89" width="7.32" height="25.72" fill="#fde725" stroke="none" stroke-width="1" />
<rect x="279.38" y="809.89" width="7.32" height="25.72" fill="#fde725" stroke="none" stroke-width="1" />
<rect x="286.55" y="809.89" width="7.32" height="25.72" fill="#fde725" stroke="none" stroke-width="1" />
<rect x="293.72" y="809.89" width="7.32" height="25.72" fill="#7ad151" stroke="none" stroke-width="1" />
<rect x="300.89" y="809.89" width="7.32" height="25.72" fill="#fde725" stroke="none" stroke-width="1" />
<rect x="308.06" y="809.89" width="7.32" height="25.72" fill="#d2e21b" stroke="none" stroke-width="1" />
<rect x="315.23" y="809.89" width="7.32" height="25.72" fill="#c8e020" stroke="none" stroke-width="1" />
<rect x="322.40" y="809.89" width="7.32" height="25.72" fill="#f1e51d" stroke="none" stroke-width="1" />
<rect x="329.57" y="809.89" width="7.32" height="25.72" fill="#6ccd5a" stroke="none" stroke-width="1" />
<rect x="336.74" y="809.89" width="7.32" height="25.72" fill="#52c569" stroke="none" stroke-width="1" />
<rect x="343.91" y="809.89" width="7.32" height="25.72" fill="#fde725" stroke="none" stroke-width="1" />
<rect x="179.00" y="835.46" width="7.32" height="25.72" fill="#414487" stroke="none" stroke-width="1" />
<rect x="186.17" y="835.46" width="7.32" height="25.72" fill="#414487" stroke="none" stroke-width="1" />
<rect x="193.34" y="835.46" width="7.32" height="25.72" fill="#404688" stroke="none" stroke-width="1" />
<rect x="200.51" y="835.46" width="7.32" height="25.72" fill="#3f4788" stroke="none" stroke-width="1" />
<rect x="207.68" y="835.46" width="7.32" height="25.72" fill="#481a6c" stroke="none" stroke-width="1" />
<rect x="214.85" y="835.46" width="7.32" height="25.72" fill="#48186a" stroke="none" stroke-width="1" />
<rect x="222.02" y="835.46" width="7.32" height="25.72" fill="#35b779" stroke="none" stroke-width="1" />
<rect x="229.19" y="835.46" width="7.32" height="25.72" fill="#21918c" stroke="none" stroke-width="1" />
<rect x="236.36" y="835.46" width="7.32" height="25.72" fill="#2a788e" stroke="none" stroke-width="1" />
<rect x="243.53" y="835.46" width="7.32" height="25.72" fill="#3b528b" stroke="none" stroke-width="1" />
<rect x="250.70" y="835.46" width="7.32" height="25.72" fill="#355f8d" stroke="none" stroke-width="1" />
<rect x="257.87" y="835.46" width="7.32" height="25.72" fill="#20a386" stroke="none" stroke-width="1" />
<rect x="265.04" y="835.46" width="7.32" height="25.72" fill="#1f9e89" stroke="none" stroke-width="1" />
<rect x="272.21" y="835.46" width="7.32" height="25.72" fill="#2a788e" stroke="none" stroke-width="1" />
<rect x="279.38" y="835.46" width="7.32" height="25.72" fill="#2c728e" stroke="none" stroke-width="1" />
<rect x="286.55" y="835.46" width="7.32" height="25.72" fill="#fde725" stroke="none" stroke-width="1" />
<rect x="293.72" y="835.46" width="7.32" height="25.72" fill="#6ece58" stroke="none" stroke-width="1" />
<rect x="300.89" y="835.46" width="7.32" height="25.72" fill="#fde725" stroke="none" stroke-width="1" />
<rect x="308.06" y="835.46" width="7.32" height="25.72" fill="#fde725" stroke="none" stroke-width="1" />
<rect x="315.23" y="835.46" width="7.32" height="25.72" fill="#86d549" stroke="none" stroke-width="1" />
<rect x="322.40" y="835.46" width="7.32" height="25.72" fill="#7ad151" stroke="none" stroke-width="1" />
<rect x="329.57" y="835.46" width="7.32" height="25.72" fill="#c2df23" stroke="none" stroke-width="1" />
<rect x="336.74" y="835.46" width="7.32" height="25.72" fill="#a0da39" stroke="none" stroke-width="1" />
<rect x="343.91" y="835.46" width="7.32" height="25.72" fill="#3e4a89" stroke="none" stroke-width="1" />
<rect x="179.00" y="861.03" width="7.32" height="25.72" fill="#26828e" stroke="none" stroke-width="1" />
<rect x="186.17" y="861.03" width="7.32" height="25.72" fill="#44bf70" stroke="none" stroke-width="1" />
<rect x="193.34" y="861.03" width="7.32" height="25.72" fill="#2db27d" stroke="none" stroke-width="1" />
<rect x="200.51" y="861.03" width="7.32" height="25.72" fill="#3bbb75" stroke="none" stroke-width="1" />
<rect x="207.68" y="861.03" width="7.32" height="25.72" fill="#7ad151" stroke="none" stroke-width="1" />
<rect x="214.85" y="861.03" width="7.32" height="25.72" fill="#26818e" stroke="none" stroke-width="1" />
<rect x="222.02" y="861.03" width="7.32" height="25.72" fill="#fde725" stroke="none" stroke-width="1" />
<rect x="229.19" y="861.03" width="7.32" height="25.72" fill="#fde725" stroke="none" stroke-width="1" />
<rect x="236.36" y="861.03" width="7.32" height="25.72" fill="#fde725" stroke="none" stroke-width="1" />
<rect x="243.53" y="861.03" width="7.32" height="25.72" fill="#fde725" stroke="none" stroke-width="1" />
<rect x="250.70" y="861.03" width="7.32" height="25.72" fill="#fde725" stroke="none" stroke-width="1" />
<rect x="257.87" y="861.03" width="7.32" height="25.72" fill="#fde725" stroke="none" stroke-width="1" />
<rect x="265.04" y="861.03" width="7.32" height="25.72" fill="#c8e020" stroke="none" stroke-width="1" />
<rect x="272.21" y="861.03" width="7.32" height="25.72" fill="#d2e21b" stroke="none" stroke-width="1" />
<rect x="279.38" y="861.03" width="7.32" height="25.72" fill="#fde725" stroke="none" stroke-width="1" />
<rect x="286.55" y="861.03" width="7.32" height="25.72" fill="#fde725" stroke="none" stroke-width="1" />
<rect x="293.72" y="861.03" width="7.32" height="25.72" fill="#fde725" stroke="none" stroke-width="1" />
<rect x="300.89" y="861.03" width="7.32" height="25.72" fill="#7ad151" stroke="none" stroke-width="1" />
<rect x="308.06" y="861.03" width="7.32" height="25.72" fill="#84d44b" stroke="none" stroke-width="1" />
<rect x="315.23" y="861.03" width="7.32" height="25.72" fill="#fde725" stroke="none" stroke-width="1" />
<rect x="322.40" y="861.03" width="7.32" height="25.72" fill="#fde725" stroke="none" stroke-width="1" />
<rect x="329.57" y="861.03" width="7.32" height="25.72" fill="#5ec962" stroke="none" stroke-width="1" />
<rect x="336.74" y="861.03" width="7.32" height="25.72" fill="#fde725" stroke="none" stroke-width="1" />
<rect x="343.91" y="861.03" width="7.32" height="25.72" fill="#fde725" stroke="none" stroke-width="1" />
<rect x="179.00" y="886.60" width="7.32" height="25.72" fill="#2c728e" stroke="none" stroke-width="1" />
<rect x="186.17" y="886.60" width="7.32" height="25.72" fill="#2a788e" stroke="none" stroke-width="1" />
<rect x="193.34" y="886.60" width="7.32" height="25.72" fill="#2a788e" stroke="none" stroke-width="1" />
<rect x="200.51" y="886.60" width="7.32" height="25.72" fill="#26828e" stroke="none" stroke-width="1" />
<rect x="207.68" y="886.60" width="7.32" height="25.72" fill="#21918c" stroke="none" stroke-width="1" />
<rect x="214.85" y="886.60" width="7.32" height="25.72" fill="#3e4a89" stroke="none" stroke-width="1" />
<rect x="222.02" y="886.60" width="7.32" height="25.72" fill="#23898e" stroke="none" stroke-width="1" />
<rect x="229.19" y="886.60" width="7.32" height="25.72" fill="#1fa088" stroke="none" stroke-width="1" />
<rect x="236.36" y="886.60" width="7.32" height="25.72" fill="#54c568" stroke="none" stroke-width="1" />
<rect x="243.53" y="886.60" width="7.32" height="25.72" fill="#f1e51d" stroke="none" stroke-width="1" />
<rect x="250.70" y="886.60" width="7.32" height="25.72" fill="#2ab07f" stroke="none" stroke-width="1" />
<rect x="257.87" y="886.60" width="7.32" height="25.72" fill="#4ac16d" stroke="none" stroke-width="1" />
<rect x="265.04" y="886.60" width="7.32" height="25.72" fill="#1f9e89" stroke="none" stroke-width="1" />
<rect x="272.21" y="886.60" width="7.32" height="25.72" fill="#2a768e" stroke="none" stroke-width="1" />
<rect x="279.38" y="886.60" width="7.32" height="25.72" fill="#3bbb75" stroke="none" stroke-width="1" />
<rect x="286.55" y="886.60" width="7.32" height="25.72" fill="#2c728e" stroke="none" stroke-width="1" />
<rect x="293.72" y="886.60" width="7.32" height="25.72" fill="#3e4989" stroke="none" stroke-width="1" />
<rect x="300.89" y="886.60" width="7.32" height="25.72" fill="#21908d" stroke="none" stroke-width="1" />
<rect x="308.06" y="886.60" width="7.32" height="25.72" fill="#1f988b" stroke="none" stroke-width="1" />
<rect x="315.23" y="886.60" width="7.32" height="25.72" fill="#21918c" stroke="none" stroke-width="1" />
<rect x="322.40" y="886.60" width="7.32" height="25.72" fill="#73d056" stroke="none" stroke-width="1" />
<rect x="329.57" y="886.60" width="7.32" height="25.72" fill="#38598c" stroke="none" stroke-width="1" />
<rect x="336.74" y="886.60" width="7.32" height="25.72" fill="#31688e" stroke="none" stroke-width="1" />
<rect x="343.91" y="886.60" width="7.32" height="25.72" fill="#440154" stroke="none" stroke-width="1" />
<line x1="186.17" y1="630.90" x2="186.17" y2="912.17" stroke="rgba(150,150,150,0.16)" stroke-width="0.6" />
<line x1="193.34" y1="630.90" x2="193.34" y2="912.17" stroke="rgba(150,150,150,0.16)" stroke-width="0.6" />
<line x1="200.51" y1="630.90" x2="200.51" y2="912.17" stroke="rgba(150,150,150,0.16)" stroke-width="0.6" />
<line x1="207.68" y1="630.90" x2="207.68" y2="912.17" stroke="rgba(150,150,150,0.16)" stroke-width="0.6" />
<line x1="214.85" y1="630.90" x2="214.85" y2="912.17" stroke="rgba(150,150,150,0.16)" stroke-width="0.6" />
<line x1="222.02" y1="630.90" x2="222.02" y2="912.17" stroke="rgba(150,150,150,0.16)" stroke-width="0.6" />
<line x1="229.19" y1="630.90" x2="229.19" y2="912.17" stroke="rgba(150,150,150,0.16)" stroke-width="0.6" />
<line x1="236.36" y1="630.90" x2="236.36" y2="912.17" stroke="rgba(150,150,150,0.16)" stroke-width="0.6" />
<line x1="243.53" y1="630.90" x2="243.53" y2="912.17" stroke="rgba(150,150,150,0.16)" stroke-width="0.6" />
<line x1="250.70" y1="630.90" x2="250.70" y2="912.17" stroke="rgba(150,150,150,0.16)" stroke-width="0.6" />
<line x1="257.87" y1="630.90" x2="257.87" y2="912.17" stroke="rgba(150,150,150,0.16)" stroke-width="0.6" />
<line x1="265.04" y1="630.90" x2="265.04" y2="912.17" stroke="rgba(150,150,150,0.16)" stroke-width="0.6" />
<line x1="272.21" y1="630.90" x2="272.21" y2="912.17" stroke="rgba(150,150,150,0.16)" stroke-width="0.6" />
<line x1="279.38" y1="630.90" x2="279.38" y2="912.17" stroke="rgba(150,150,150,0.16)" stroke-width="0.6" />
<line x1="286.55" y1="630.90" x2="286.55" y2="912.17" stroke="rgba(150,150,150,0.16)" stroke-width="0.6" />
<line x1="293.72" y1="630.90" x2="293.72" y2="912.17" stroke="rgba(150,150,150,0.16)" stroke-width="0.6" />
<line x1="300.89" y1="630.90" x2="300.89" y2="912.17" stroke="rgba(150,150,150,0.16)" stroke-width="0.6" />
<line x1="308.06" y1="630.90" x2="308.06" y2="912.17" stroke="rgba(150,150,150,0.16)" stroke-width="0.6" />
<line x1="315.23" y1="630.90" x2="315.23" y2="912.17" stroke="rgba(150,150,150,0.16)" stroke-width="0.6" />
<line x1="322.40" y1="630.90" x2="322.40" y2="912.17" stroke="rgba(150,150,150,0.16)" stroke-width="0.6" />
<line x1="329.57" y1="630.90" x2="329.57" y2="912.17" stroke="rgba(150,150,150,0.16)" stroke-width="0.6" />
<line x1="336.74" y1="630.90" x2="336.74" y2="912.17" stroke="rgba(150,150,150,0.16)" stroke-width="0.6" />
<line x1="343.91" y1="630.90" x2="343.91" y2="912.17" stroke="rgba(150,150,150,0.16)" stroke-width="0.6" />
<line x1="179.00" y1="656.47" x2="351.08" y2="656.47" stroke="rgba(150,150,150,0.16)" stroke-width="0.6" />
<line x1="179.00" y1="682.04" x2="351.08" y2="682.04" stroke="rgba(150,150,150,0.16)" stroke-width="0.6" />
<line x1="179.00" y1="707.61" x2="351.08" y2="707.61" stroke="rgba(150,150,150,0.16)" stroke-width="0.6" />
<line x1="179.00" y1="733.18" x2="351.08" y2="733.18" stroke="rgba(150,150,150,0.16)" stroke-width="0.6" />
<line x1="179.00" y1="758.75" x2="351.08" y2="758.75" stroke="rgba(150,150,150,0.16)" stroke-width="0.6" />
<line x1="179.00" y1="784.32" x2="351.08" y2="784.32" stroke="rgba(150,150,150,0.16)" stroke-width="0.6" />
<line x1="179.00" y1="809.89" x2="351.08" y2="809.89" stroke="rgba(150,150,150,0.16)" stroke-width="0.6" />
<line x1="179.00" y1="835.46" x2="351.08" y2="835.46" stroke="rgba(150,150,150,0.16)" stroke-width="0.6" />
<line x1="179.00" y1="861.03" x2="351.08" y2="861.03" stroke="rgba(150,150,150,0.16)" stroke-width="0.6" />
<line x1="179.00" y1="886.60" x2="351.08" y2="886.60" stroke="rgba(150,150,150,0.16)" stroke-width="0.6" />
<rect x="179.00" y="630.90" width="172.08" height="281.27" fill="none" stroke="#333" stroke-width="0.8" />
<rect x="373.20" y="630.90" width="6.62" height="25.72" fill="#440154" stroke="none" stroke-width="1" />
<rect x="379.67" y="630.90" width="6.62" height="25.72" fill="#440154" stroke="none" stroke-width="1" />
<rect x="386.14" y="630.90" width="6.62" height="25.72" fill="#440154" stroke="none" stroke-width="1" />
<rect x="392.61" y="630.90" width="6.62" height="25.72" fill="#440154" stroke="none" stroke-width="1" />
<rect x="399.08" y="630.90" width="6.62" height="25.72" fill="#440154" stroke="none" stroke-width="1" />
<rect x="405.55" y="630.90" width="6.62" height="25.72" fill="#440154" stroke="none" stroke-width="1" />
<rect x="373.20" y="656.47" width="6.62" height="25.72" fill="#440154" stroke="none" stroke-width="1" />
<rect x="379.67" y="656.47" width="6.62" height="25.72" fill="#440154" stroke="none" stroke-width="1" />
<rect x="386.14" y="656.47" width="6.62" height="25.72" fill="#440154" stroke="none" stroke-width="1" />
<rect x="392.61" y="656.47" width="6.62" height="25.72" fill="#440154" stroke="none" stroke-width="1" />
<rect x="399.08" y="656.47" width="6.62" height="25.72" fill="#440154" stroke="none" stroke-width="1" />
<rect x="405.55" y="656.47" width="6.62" height="25.72" fill="#440154" stroke="none" stroke-width="1" />
<rect x="373.20" y="682.04" width="6.62" height="25.72" fill="#440154" stroke="none" stroke-width="1" />
<rect x="379.67" y="682.04" width="6.62" height="25.72" fill="#440154" stroke="none" stroke-width="1" />
<rect x="386.14" y="682.04" width="6.62" height="25.72" fill="#440154" stroke="none" stroke-width="1" />
<rect x="392.61" y="682.04" width="6.62" height="25.72" fill="#440154" stroke="none" stroke-width="1" />
<rect x="399.08" y="682.04" width="6.62" height="25.72" fill="#440154" stroke="none" stroke-width="1" />
<rect x="405.55" y="682.04" width="6.62" height="25.72" fill="#440154" stroke="none" stroke-width="1" />
<rect x="373.20" y="707.61" width="6.62" height="25.72" fill="#fde725" stroke="none" stroke-width="1" />
<rect x="379.67" y="707.61" width="6.62" height="25.72" fill="#fde725" stroke="none" stroke-width="1" />
<rect x="386.14" y="707.61" width="6.62" height="25.72" fill="#fde725" stroke="none" stroke-width="1" />
<rect x="392.61" y="707.61" width="6.62" height="25.72" fill="#fde725" stroke="none" stroke-width="1" />
<rect x="399.08" y="707.61" width="6.62" height="25.72" fill="#fde725" stroke="none" stroke-width="1" />
<rect x="405.55" y="707.61" width="6.62" height="25.72" fill="#fde725" stroke="none" stroke-width="1" />
<rect x="373.20" y="733.18" width="6.62" height="25.72" fill="#440154" stroke="none" stroke-width="1" />
<rect x="379.67" y="733.18" width="6.62" height="25.72" fill="#440154" stroke="none" stroke-width="1" />
<rect x="386.14" y="733.18" width="6.62" height="25.72" fill="#440154" stroke="none" stroke-width="1" />
<rect x="392.61" y="733.18" width="6.62" height="25.72" fill="#440154" stroke="none" stroke-width="1" />
<rect x="399.08" y="733.18" width="6.62" height="25.72" fill="#440154" stroke="none" stroke-width="1" />
<rect x="405.55" y="733.18" width="6.62" height="25.72" fill="#440154" stroke="none" stroke-width="1" />
<rect x="373.20" y="758.75" width="6.62" height="25.72" fill="#482576" stroke="none" stroke-width="1" />
<rect x="379.67" y="758.75" width="6.62" height="25.72" fill="#482576" stroke="none" stroke-width="1" />
<rect x="386.14" y="758.75" width="6.62" height="25.72" fill="#472a7a" stroke="none" stroke-width="1" />
<rect x="392.61" y="758.75" width="6.62" height="25.72" fill="#482576" stroke="none" stroke-width="1" />
<rect x="399.08" y="758.75" width="6.62" height="25.72" fill="#481f70" stroke="none" stroke-width="1" />
<rect x="405.55" y="758.75" width="6.62" height="25.72" fill="#482576" stroke="none" stroke-width="1" />
<rect x="373.20" y="784.32" width="6.62" height="25.72" fill="#481b6d" stroke="none" stroke-width="1" />
<rect x="379.67" y="784.32" width="6.62" height="25.72" fill="#481b6d" stroke="none" stroke-width="1" />
<rect x="386.14" y="784.32" width="6.62" height="25.72" fill="#481b6d" stroke="none" stroke-width="1" />
<rect x="392.61" y="784.32" width="6.62" height="25.72" fill="#481b6d" stroke="none" stroke-width="1" />
<rect x="399.08" y="784.32" width="6.62" height="25.72" fill="#481b6d" stroke="none" stroke-width="1" />
<rect x="405.55" y="784.32" width="6.62" height="25.72" fill="#481b6d" stroke="none" stroke-width="1" />
<rect x="373.20" y="809.89" width="6.62" height="25.72" fill="#7ad151" stroke="none" stroke-width="1" />
<rect x="379.67" y="809.89" width="6.62" height="25.72" fill="#7ad151" stroke="none" stroke-width="1" />
<rect x="386.14" y="809.89" width="6.62" height="25.72" fill="#86d549" stroke="none" stroke-width="1" />
<rect x="392.61" y="809.89" width="6.62" height="25.72" fill="#addc30" stroke="none" stroke-width="1" />
<rect x="399.08" y="809.89" width="6.62" height="25.72" fill="#7ad151" stroke="none" stroke-width="1" />
<rect x="405.55" y="809.89" width="6.62" height="25.72" fill="#7ad151" stroke="none" stroke-width="1" />
<rect x="373.20" y="835.46" width="6.62" height="25.72" fill="#6ece58" stroke="none" stroke-width="1" />
<rect x="379.67" y="835.46" width="6.62" height="25.72" fill="#22a884" stroke="none" stroke-width="1" />
<rect x="386.14" y="835.46" width="6.62" height="25.72" fill="#2a788e" stroke="none" stroke-width="1" />
<rect x="392.61" y="835.46" width="6.62" height="25.72" fill="#1f9a8a" stroke="none" stroke-width="1" />
<rect x="399.08" y="835.46" width="6.62" height="25.72" fill="#a0da39" stroke="none" stroke-width="1" />
<rect x="405.55" y="835.46" width="6.62" height="25.72" fill="#7ad151" stroke="none" stroke-width="1" />
<rect x="373.20" y="861.03" width="6.62" height="25.72" fill="#fde725" stroke="none" stroke-width="1" />
<rect x="379.67" y="861.03" width="6.62" height="25.72" fill="#fde725" stroke="none" stroke-width="1" />
<rect x="386.14" y="861.03" width="6.62" height="25.72" fill="#fde725" stroke="none" stroke-width="1" />
<rect x="392.61" y="861.03" width="6.62" height="25.72" fill="#fde725" stroke="none" stroke-width="1" />
<rect x="399.08" y="861.03" width="6.62" height="25.72" fill="#fde725" stroke="none" stroke-width="1" />
<rect x="405.55" y="861.03" width="6.62" height="25.72" fill="#fde725" stroke="none" stroke-width="1" />
<rect x="373.20" y="886.60" width="6.62" height="25.72" fill="#481f70" stroke="none" stroke-width="1" />
<rect x="379.67" y="886.60" width="6.62" height="25.72" fill="#48186a" stroke="none" stroke-width="1" />
<rect x="386.14" y="886.60" width="6.62" height="25.72" fill="#46085c" stroke="none" stroke-width="1" />
<rect x="392.61" y="886.60" width="6.62" height="25.72" fill="#481a6c" stroke="none" stroke-width="1" />
<rect x="399.08" y="886.60" width="6.62" height="25.72" fill="#482576" stroke="none" stroke-width="1" />
<rect x="405.55" y="886.60" width="6.62" height="25.72" fill="#46085c" stroke="none" stroke-width="1" />
<line x1="379.67" y1="630.90" x2="379.67" y2="912.17" stroke="rgba(150,150,150,0.16)" stroke-width="0.6" />
<line x1="386.14" y1="630.90" x2="386.14" y2="912.17" stroke="rgba(150,150,150,0.16)" stroke-width="0.6" />
<line x1="392.61" y1="630.90" x2="392.61" y2="912.17" stroke="rgba(150,150,150,0.16)" stroke-width="0.6" />
<line x1="399.08" y1="630.90" x2="399.08" y2="912.17" stroke="rgba(150,150,150,0.16)" stroke-width="0.6" />
<line x1="405.55" y1="630.90" x2="405.55" y2="912.17" stroke="rgba(150,150,150,0.16)" stroke-width="0.6" />
<line x1="373.20" y1="656.47" x2="412.02" y2="656.47" stroke="rgba(150,150,150,0.16)" stroke-width="0.6" />
<line x1="373.20" y1="682.04" x2="412.02" y2="682.04" stroke="rgba(150,150,150,0.16)" stroke-width="0.6" />
<line x1="373.20" y1="707.61" x2="412.02" y2="707.61" stroke="rgba(150,150,150,0.16)" stroke-width="0.6" />
<line x1="373.20" y1="733.18" x2="412.02" y2="733.18" stroke="rgba(150,150,150,0.16)" stroke-width="0.6" />
<line x1="373.20" y1="758.75" x2="412.02" y2="758.75" stroke="rgba(150,150,150,0.16)" stroke-width="0.6" />
<line x1="373.20" y1="784.32" x2="412.02" y2="784.32" stroke="rgba(150,150,150,0.16)" stroke-width="0.6" />
<line x1="373.20" y1="809.89" x2="412.02" y2="809.89" stroke="rgba(150,150,150,0.16)" stroke-width="0.6" />
<line x1="373.20" y1="835.46" x2="412.02" y2="835.46" stroke="rgba(150,150,150,0.16)" stroke-width="0.6" />
<line x1="373.20" y1="861.03" x2="412.02" y2="861.03" stroke="rgba(150,150,150,0.16)" stroke-width="0.6" />
<line x1="373.20" y1="886.60" x2="412.02" y2="886.60" stroke="rgba(150,150,150,0.16)" stroke-width="0.6" />
<rect x="373.20" y="630.90" width="38.82" height="281.27" fill="none" stroke="#333" stroke-width="0.8" />
<rect x="425.10" y="630.90" width="6.59" height="25.72" fill="#2c728e" stroke="none" stroke-width="1" />
<rect x="431.54" y="630.90" width="6.59" height="25.72" fill="#440154" stroke="none" stroke-width="1" />
<rect x="437.98" y="630.90" width="6.59" height="25.72" fill="#39568c" stroke="none" stroke-width="1" />
<rect x="444.42" y="630.90" width="6.59" height="25.72" fill="#440154" stroke="none" stroke-width="1" />
<rect x="450.86" y="630.90" width="6.59" height="25.72" fill="#433e85" stroke="none" stroke-width="1" />
<rect x="457.30" y="630.90" width="6.59" height="25.72" fill="#440154" stroke="none" stroke-width="1" />
<rect x="425.10" y="656.47" width="6.59" height="25.72" fill="#2c728e" stroke="none" stroke-width="1" />
<rect x="431.54" y="656.47" width="6.59" height="25.72" fill="#2a768e" stroke="none" stroke-width="1" />
<rect x="437.98" y="656.47" width="6.59" height="25.72" fill="#26828e" stroke="none" stroke-width="1" />
<rect x="444.42" y="656.47" width="6.59" height="25.72" fill="#440154" stroke="none" stroke-width="1" />
<rect x="450.86" y="656.47" width="6.59" height="25.72" fill="#26828e" stroke="none" stroke-width="1" />
<rect x="457.30" y="656.47" width="6.59" height="25.72" fill="#440154" stroke="none" stroke-width="1" />
<rect x="425.10" y="682.04" width="6.59" height="25.72" fill="#471365" stroke="none" stroke-width="1" />
<rect x="431.54" y="682.04" width="6.59" height="25.72" fill="#471365" stroke="none" stroke-width="1" />
<rect x="437.98" y="682.04" width="6.59" height="25.72" fill="#471365" stroke="none" stroke-width="1" />
<rect x="444.42" y="682.04" width="6.59" height="25.72" fill="#440154" stroke="none" stroke-width="1" />
<rect x="450.86" y="682.04" width="6.59" height="25.72" fill="#481467" stroke="none" stroke-width="1" />
<rect x="457.30" y="682.04" width="6.59" height="25.72" fill="#471365" stroke="none" stroke-width="1" />
<rect x="425.10" y="707.61" width="6.59" height="25.72" fill="#44bf70" stroke="none" stroke-width="1" />
<rect x="431.54" y="707.61" width="6.59" height="25.72" fill="#6ece58" stroke="none" stroke-width="1" />
<rect x="437.98" y="707.61" width="6.59" height="25.72" fill="#2db27d" stroke="none" stroke-width="1" />
<rect x="444.42" y="707.61" width="6.59" height="25.72" fill="#fde725" stroke="none" stroke-width="1" />
<rect x="450.86" y="707.61" width="6.59" height="25.72" fill="#52c569" stroke="none" stroke-width="1" />
<rect x="457.30" y="707.61" width="6.59" height="25.72" fill="#2c728e" stroke="none" stroke-width="1" />
<rect x="425.10" y="733.18" width="6.59" height="25.72" fill="#414487" stroke="none" stroke-width="1" />
<rect x="431.54" y="733.18" width="6.59" height="25.72" fill="#22a884" stroke="none" stroke-width="1" />
<rect x="437.98" y="733.18" width="6.59" height="25.72" fill="#2c728e" stroke="none" stroke-width="1" />
<rect x="444.42" y="733.18" width="6.59" height="25.72" fill="#481a6c" stroke="none" stroke-width="1" />
<rect x="450.86" y="733.18" width="6.59" height="25.72" fill="#20a386" stroke="none" stroke-width="1" />
<rect x="457.30" y="733.18" width="6.59" height="25.72" fill="#3e4989" stroke="none" stroke-width="1" />
<rect x="425.10" y="758.75" width="6.59" height="25.72" fill="#1f9e89" stroke="none" stroke-width="1" />
<rect x="431.54" y="758.75" width="6.59" height="25.72" fill="#26828e" stroke="none" stroke-width="1" />
<rect x="437.98" y="758.75" width="6.59" height="25.72" fill="#23888e" stroke="none" stroke-width="1" />
<rect x="444.42" y="758.75" width="6.59" height="25.72" fill="#443983" stroke="none" stroke-width="1" />
<rect x="450.86" y="758.75" width="6.59" height="25.72" fill="#1f958b" stroke="none" stroke-width="1" />
<rect x="457.30" y="758.75" width="6.59" height="25.72" fill="#31688e" stroke="none" stroke-width="1" />
<rect x="425.10" y="784.32" width="6.59" height="25.72" fill="#482576" stroke="none" stroke-width="1" />
<rect x="431.54" y="784.32" width="6.59" height="25.72" fill="#472a7a" stroke="none" stroke-width="1" />
<rect x="437.98" y="784.32" width="6.59" height="25.72" fill="#482576" stroke="none" stroke-width="1" />
<rect x="444.42" y="784.32" width="6.59" height="25.72" fill="#482576" stroke="none" stroke-width="1" />
<rect x="450.86" y="784.32" width="6.59" height="25.72" fill="#482576" stroke="none" stroke-width="1" />
<rect x="457.30" y="784.32" width="6.59" height="25.72" fill="#482576" stroke="none" stroke-width="1" />
<rect x="425.10" y="809.89" width="6.59" height="25.72" fill="#46085c" stroke="none" stroke-width="1" />
<rect x="431.54" y="809.89" width="6.59" height="25.72" fill="#48186a" stroke="none" stroke-width="1" />
<rect x="437.98" y="809.89" width="6.59" height="25.72" fill="#481b6d" stroke="none" stroke-width="1" />
<rect x="444.42" y="809.89" width="6.59" height="25.72" fill="#fde725" stroke="none" stroke-width="1" />
<rect x="450.86" y="809.89" width="6.59" height="25.72" fill="#46085c" stroke="none" stroke-width="1" />
<rect x="457.30" y="809.89" width="6.59" height="25.72" fill="#fde725" stroke="none" stroke-width="1" />
<rect x="425.10" y="835.46" width="6.59" height="25.72" fill="#440154" stroke="none" stroke-width="1" />
<rect x="431.54" y="835.46" width="6.59" height="25.72" fill="#440154" stroke="none" stroke-width="1" />
<rect x="437.98" y="835.46" width="6.59" height="25.72" fill="#440154" stroke="none" stroke-width="1" />
<rect x="444.42" y="835.46" width="6.59" height="25.72" fill="#2c728e" stroke="none" stroke-width="1" />
<rect x="450.86" y="835.46" width="6.59" height="25.72" fill="#440154" stroke="none" stroke-width="1" />
<rect x="457.30" y="835.46" width="6.59" height="25.72" fill="#440154" stroke="none" stroke-width="1" />
<rect x="425.10" y="861.03" width="6.59" height="25.72" fill="#414487" stroke="none" stroke-width="1" />
<rect x="431.54" y="861.03" width="6.59" height="25.72" fill="#472d7b" stroke="none" stroke-width="1" />
<rect x="437.98" y="861.03" width="6.59" height="25.72" fill="#404688" stroke="none" stroke-width="1" />
<rect x="444.42" y="861.03" width="6.59" height="25.72" fill="#fde725" stroke="none" stroke-width="1" />
<rect x="450.86" y="861.03" width="6.59" height="25.72" fill="#46337f" stroke="none" stroke-width="1" />
<rect x="457.30" y="861.03" width="6.59" height="25.72" fill="#21918c" stroke="none" stroke-width="1" />
<rect x="425.10" y="886.60" width="6.59" height="25.72" fill="#46085c" stroke="none" stroke-width="1" />
<rect x="431.54" y="886.60" width="6.59" height="25.72" fill="#440154" stroke="none" stroke-width="1" />
<rect x="437.98" y="886.60" width="6.59" height="25.72" fill="#440154" stroke="none" stroke-width="1" />
<rect x="444.42" y="886.60" width="6.59" height="25.72" fill="#2ab07f" stroke="none" stroke-width="1" />
<rect x="450.86" y="886.60" width="6.59" height="25.72" fill="#440154" stroke="none" stroke-width="1" />
<rect x="457.30" y="886.60" width="6.59" height="25.72" fill="#414487" stroke="none" stroke-width="1" />
<line x1="431.54" y1="630.90" x2="431.54" y2="912.17" stroke="rgba(150,150,150,0.16)" stroke-width="0.6" />
<line x1="437.98" y1="630.90" x2="437.98" y2="912.17" stroke="rgba(150,150,150,0.16)" stroke-width="0.6" />
<line x1="444.42" y1="630.90" x2="444.42" y2="912.17" stroke="rgba(150,150,150,0.16)" stroke-width="0.6" />
<line x1="450.86" y1="630.90" x2="450.86" y2="912.17" stroke="rgba(150,150,150,0.16)" stroke-width="0.6" />
<line x1="457.30" y1="630.90" x2="457.30" y2="912.17" stroke="rgba(150,150,150,0.16)" stroke-width="0.6" />
<line x1="425.10" y1="656.47" x2="463.74" y2="656.47" stroke="rgba(150,150,150,0.16)" stroke-width="0.6" />
<line x1="425.10" y1="682.04" x2="463.74" y2="682.04" stroke="rgba(150,150,150,0.16)" stroke-width="0.6" />
<line x1="425.10" y1="707.61" x2="463.74" y2="707.61" stroke="rgba(150,150,150,0.16)" stroke-width="0.6" />
<line x1="425.10" y1="733.18" x2="463.74" y2="733.18" stroke="rgba(150,150,150,0.16)" stroke-width="0.6" />
<line x1="425.10" y1="758.75" x2="463.74" y2="758.75" stroke="rgba(150,150,150,0.16)" stroke-width="0.6" />
<line x1="425.10" y1="784.32" x2="463.74" y2="784.32" stroke="rgba(150,150,150,0.16)" stroke-width="0.6" />
<line x1="425.10" y1="809.89" x2="463.74" y2="809.89" stroke="rgba(150,150,150,0.16)" stroke-width="0.6" />
<line x1="425.10" y1="835.46" x2="463.74" y2="835.46" stroke="rgba(150,150,150,0.16)" stroke-width="0.6" />
<line x1="425.10" y1="861.03" x2="463.74" y2="861.03" stroke="rgba(150,150,150,0.16)" stroke-width="0.6" />
<line x1="425.10" y1="886.60" x2="463.74" y2="886.60" stroke="rgba(150,150,150,0.16)" stroke-width="0.6" />
<rect x="425.10" y="630.90" width="38.64" height="281.27" fill="none" stroke="#333" stroke-width="0.8" />
<text x="170.30" y="647.28" font-size="8.35" font-weight="normal" font-style="normal" text-anchor="end" fill="#222" >pyruvate</text>
<line x1="171.30" y1="643.68" x2="178.50" y2="643.68" stroke="#555" stroke-width="0.8" />
<line x1="369.50" y1="643.68" x2="373.00" y2="643.68" stroke="#999" stroke-width="0.6" />
<line x1="421.50" y1="643.68" x2="425.00" y2="643.68" stroke="#999" stroke-width="0.6" />
<text x="170.30" y="672.86" font-size="8.35" font-weight="normal" font-style="normal" text-anchor="end" fill="#222" >glucose</text>
<line x1="171.30" y1="669.25" x2="178.50" y2="669.25" stroke="#555" stroke-width="0.8" />
<line x1="369.50" y1="669.25" x2="373.00" y2="669.25" stroke="#999" stroke-width="0.6" />
<line x1="421.50" y1="669.25" x2="425.00" y2="669.25" stroke="#999" stroke-width="0.6" />
<text x="170.30" y="698.42" font-size="8.35" font-weight="normal" font-style="normal" text-anchor="end" fill="#222" >trehalose</text>
<line x1="171.30" y1="694.82" x2="178.50" y2="694.82" stroke="#555" stroke-width="0.8" />
<line x1="369.50" y1="694.82" x2="373.00" y2="694.82" stroke="#999" stroke-width="0.6" />
<line x1="421.50" y1="694.82" x2="425.00" y2="694.82" stroke="#999" stroke-width="0.6" />
<text x="170.30" y="724.00" font-size="8.35" font-weight="normal" font-style="normal" text-anchor="end" fill="#222" >acetate</text>
<line x1="171.30" y1="720.39" x2="178.50" y2="720.39" stroke="#555" stroke-width="0.8" />
<line x1="369.50" y1="720.39" x2="373.00" y2="720.39" stroke="#999" stroke-width="0.6" />
<line x1="421.50" y1="720.39" x2="425.00" y2="720.39" stroke="#999" stroke-width="0.6" />
<text x="170.30" y="749.56" font-size="8.35" font-weight="normal" font-style="normal" text-anchor="end" fill="#222" >lactate</text>
<line x1="171.30" y1="745.96" x2="178.50" y2="745.96" stroke="#555" stroke-width="0.8" />
<line x1="369.50" y1="745.96" x2="373.00" y2="745.96" stroke="#999" stroke-width="0.6" />
<line x1="421.50" y1="745.96" x2="425.00" y2="745.96" stroke="#999" stroke-width="0.6" />
<text x="170.30" y="775.13" font-size="8.35" font-weight="normal" font-style="normal" text-anchor="end" fill="#222" >succinate</text>
<line x1="171.30" y1="771.53" x2="178.50" y2="771.53" stroke="#555" stroke-width="0.8" />
<line x1="369.50" y1="771.53" x2="373.00" y2="771.53" stroke="#999" stroke-width="0.6" />
<line x1="421.50" y1="771.53" x2="425.00" y2="771.53" stroke="#999" stroke-width="0.6" />
<text x="170.30" y="800.71" font-size="8.35" font-weight="normal" font-style="normal" text-anchor="end" fill="#222" >formate</text>
<line x1="171.30" y1="797.11" x2="178.50" y2="797.11" stroke="#555" stroke-width="0.8" />
<line x1="369.50" y1="797.11" x2="373.00" y2="797.11" stroke="#999" stroke-width="0.6" />
<line x1="421.50" y1="797.11" x2="425.00" y2="797.11" stroke="#999" stroke-width="0.6" />
<text x="170.30" y="826.27" font-size="8.35" font-weight="normal" font-style="normal" text-anchor="end" fill="#222" >butyrate</text>
<line x1="171.30" y1="822.67" x2="178.50" y2="822.67" stroke="#555" stroke-width="0.8" />
<line x1="369.50" y1="822.67" x2="373.00" y2="822.67" stroke="#999" stroke-width="0.6" />
<line x1="421.50" y1="822.67" x2="425.00" y2="822.67" stroke="#999" stroke-width="0.6" />
<text x="168.70" y="851.85" font-size="8.35" font-weight="normal" font-style="italic" text-anchor="end" fill="#222" >Blautia hydrogenotrophica</text>
<line x1="171.30" y1="848.25" x2="178.50" y2="848.25" stroke="#555" stroke-width="0.8" />
<line x1="369.50" y1="848.25" x2="373.00" y2="848.25" stroke="#999" stroke-width="0.6" />
<line x1="421.50" y1="848.25" x2="425.00" y2="848.25" stroke="#999" stroke-width="0.6" />
<text x="168.70" y="877.41" font-size="8.35" font-weight="normal" font-style="italic" text-anchor="end" fill="#222" >Bacteroides thetaiotaomicron</text>
<line x1="171.30" y1="873.81" x2="178.50" y2="873.81" stroke="#555" stroke-width="0.8" />
<line x1="369.50" y1="873.81" x2="373.00" y2="873.81" stroke="#999" stroke-width="0.6" />
<line x1="421.50" y1="873.81" x2="425.00" y2="873.81" stroke="#999" stroke-width="0.6" />
<text x="168.70" y="902.99" font-size="8.35" font-weight="normal" font-style="italic" text-anchor="end" fill="#222" >Roseburia instestinals</text>
<line x1="171.30" y1="899.38" x2="178.50" y2="899.38" stroke="#555" stroke-width="0.8" />
<line x1="369.50" y1="899.38" x2="373.00" y2="899.38" stroke="#999" stroke-width="0.6" />
<line x1="421.50" y1="899.38" x2="425.00" y2="899.38" stroke="#999" stroke-width="0.6" />
<line x1="182.60" y1="912.17" x2="182.60" y2="920.67" stroke="#555" stroke-width="0.8" />
<text x="182.60" y="932.00" font-size="10.0" font-weight="normal" font-style="normal" text-anchor="middle" fill="#111" >0</text>
<line x1="218.45" y1="912.17" x2="218.45" y2="920.67" stroke="#555" stroke-width="0.8" />
<text x="218.45" y="932.00" font-size="10.0" font-weight="normal" font-style="normal" text-anchor="middle" fill="#111" >5</text>
<line x1="254.30" y1="912.17" x2="254.30" y2="920.67" stroke="#555" stroke-width="0.8" />
<text x="254.30" y="932.00" font-size="10.0" font-weight="normal" font-style="normal" text-anchor="middle" fill="#111" >10</text>
<line x1="290.15" y1="912.17" x2="290.15" y2="920.67" stroke="#555" stroke-width="0.8" />
<text x="290.15" y="932.00" font-size="10.0" font-weight="normal" font-style="normal" text-anchor="middle" fill="#111" >15</text>
<line x1="326.00" y1="912.17" x2="326.00" y2="920.67" stroke="#555" stroke-width="0.8" />
<text x="326.00" y="932.00" font-size="10.0" font-weight="normal" font-style="normal" text-anchor="middle" fill="#111" >20</text>
<line x1="377.00" y1="912.17" x2="377.00" y2="919.17" stroke="#888" stroke-width="0.8" />
<text x="377.00" y="929.80" font-size="10.0" font-weight="normal" font-style="normal" text-anchor="middle" fill="#111" >0</text>
<line x1="410.50" y1="912.17" x2="410.50" y2="919.17" stroke="#888" stroke-width="0.8" />
<text x="410.50" y="929.80" font-size="10.0" font-weight="normal" font-style="normal" text-anchor="middle" fill="#111" >5</text>
<line x1="428.00" y1="912.17" x2="428.00" y2="919.17" stroke="#888" stroke-width="0.8" />
<text x="428.00" y="929.80" font-size="10.0" font-weight="normal" font-style="normal" text-anchor="middle" fill="#111" >0</text>
<line x1="461.30" y1="912.17" x2="461.30" y2="919.17" stroke="#888" stroke-width="0.8" />
<text x="461.30" y="929.80" font-size="10.0" font-weight="normal" font-style="normal" text-anchor="middle" fill="#111" >5</text>
<rect x="485.40" y="686.40" width="10.80" height="202.20" fill="url(#vir)" stroke="none" stroke-width="1" />
<rect x="485.40" y="686.40" width="10.80" height="202.20" fill="none" stroke="#555" stroke-width="0.6" />
<line x1="496.20" y1="888.60" x2="502.80" y2="888.60" stroke="#555" stroke-width="0.7" />
<text x="505.80" y="891.08" font-size="6.9" font-weight="normal" font-style="normal" text-anchor="start" fill="#222" >0</text>
<line x1="496.20" y1="854.90" x2="502.80" y2="854.90" stroke="#555" stroke-width="0.7" />
<text x="505.80" y="857.38" font-size="6.9" font-weight="normal" font-style="normal" text-anchor="start" fill="#222" >2</text>
<line x1="496.20" y1="821.20" x2="502.80" y2="821.20" stroke="#555" stroke-width="0.7" />
<text x="505.80" y="823.68" font-size="6.9" font-weight="normal" font-style="normal" text-anchor="start" fill="#222" >4</text>
<line x1="496.20" y1="787.50" x2="502.80" y2="787.50" stroke="#555" stroke-width="0.7" />
<text x="505.80" y="789.98" font-size="6.9" font-weight="normal" font-style="normal" text-anchor="start" fill="#222" >6</text>
<line x1="496.20" y1="753.80" x2="502.80" y2="753.80" stroke="#555" stroke-width="0.7" />
<text x="505.80" y="756.28" font-size="6.9" font-weight="normal" font-style="normal" text-anchor="start" fill="#222" >8</text>
<line x1="496.20" y1="720.10" x2="502.80" y2="720.10" stroke="#555" stroke-width="0.7" />
<text x="505.80" y="722.58" font-size="6.9" font-weight="normal" font-style="normal" text-anchor="start" fill="#222" >10</text>
<line x1="496.20" y1="686.40" x2="502.80" y2="686.40" stroke="#555" stroke-width="0.7" />
<text x="505.80" y="688.88" font-size="6.9" font-weight="normal" font-style="normal" text-anchor="start" fill="#222" >12</text>
<line x1="496.20" y1="888.60" x2="497.80" y2="888.60" stroke="#555" stroke-width="0.6" />
<line x1="496.20" y1="880.17" x2="497.80" y2="880.17" stroke="#555" stroke-width="0.6" />
<line x1="496.20" y1="871.75" x2="497.80" y2="871.75" stroke="#555" stroke-width="0.6" />
<line x1="496.20" y1="863.32" x2="497.80" y2="863.32" stroke="#555" stroke-width="0.6" />
<line x1="496.20" y1="854.90" x2="497.80" y2="854.90" stroke="#555" stroke-width="0.6" />
<line x1="496.20" y1="846.47" x2="497.80" y2="846.47" stroke="#555" stroke-width="0.6" />
<line x1="496.20" y1="838.05" x2="497.80" y2="838.05" stroke="#555" stroke-width="0.6" />
<line x1="496.20" y1="829.62" x2="497.80" y2="829.62" stroke="#555" stroke-width="0.6" />
<line x1="496.20" y1="821.20" x2="497.80" y2="821.20" stroke="#555" stroke-width="0.6" />
<line x1="496.20" y1="812.77" x2="497.80" y2="812.77" stroke="#555" stroke-width="0.6" />
<line x1="496.20" y1="804.35" x2="497.80" y2="804.35" stroke="#555" stroke-width="0.6" />
<line x1="496.20" y1="795.92" x2="497.80" y2="795.92" stroke="#555" stroke-width="0.6" />
<line x1="496.20" y1="787.50" x2="497.80" y2="787.50" stroke="#555" stroke-width="0.6" />
<line x1="496.20" y1="779.07" x2="497.80" y2="779.07" stroke="#555" stroke-width="0.6" />
<line x1="496.20" y1="770.65" x2="497.80" y2="770.65" stroke="#555" stroke-width="0.6" />
<line x1="496.20" y1="762.22" x2="497.80" y2="762.22" stroke="#555" stroke-width="0.6" />
<line x1="496.20" y1="753.80" x2="497.80" y2="753.80" stroke="#555" stroke-width="0.6" />
<line x1="496.20" y1="745.37" x2="497.80" y2="745.37" stroke="#555" stroke-width="0.6" />
<line x1="496.20" y1="736.95" x2="497.80" y2="736.95" stroke="#555" stroke-width="0.6" />
<line x1="496.20" y1="728.52" x2="497.80" y2="728.52" stroke="#555" stroke-width="0.6" />
<line x1="496.20" y1="720.10" x2="497.80" y2="720.10" stroke="#555" stroke-width="0.6" />
<line x1="496.20" y1="711.67" x2="497.80" y2="711.67" stroke="#555" stroke-width="0.6" />
<line x1="496.20" y1="703.25" x2="497.80" y2="703.25" stroke="#555" stroke-width="0.6" />
<line x1="496.20" y1="694.82" x2="497.80" y2="694.82" stroke="#555" stroke-width="0.6" />
<line x1="496.20" y1="686.40" x2="497.80" y2="686.40" stroke="#555" stroke-width="0.6" />
<text x="523.40" y="782.00" font-size="10.5" font-weight="bold" font-style="normal" text-anchor="middle" fill="#000" transform="rotate(-90 523.4 782)" dominant-baseline="central">in mM or 10<tspan dy="-4" font-size="7">5</tspan></text>
<text x="536.40" y="782.00" font-size="10.4" font-weight="bold" font-style="normal" text-anchor="middle" fill="#000" transform="rotate(-90 536.4 782)" dominant-baseline="central">cells/uL</text>
<path d="M181,935 L256.5,935 Q263.7,935 263.7,944.4 Q263.7,935 270.9,935 L349.3,935" stroke="#222" stroke-width="2.6" fill="none" />
<path d="M372,936.2 L382,936.2 C388.5,936.2 391.6,940 391.6,950 M391.6,950 C391.6,940 394.7,935.5 401,935.3 L411.1,934.9" stroke="#222" stroke-width="2.8" fill="none" />
<path d="M391.6,948 L391.6,969.5" stroke="#222" stroke-width="3.6" fill="none" stroke-linecap="round"/>
<path d="M425.1,937.2 L445,937.2 C452,937.2 455,938.5 460,941.5" stroke="#222" stroke-width="2.7" fill="none" />
<path d="M459,940.8 L490.1,960.5" stroke="#222" stroke-width="3.6" fill="none" stroke-linecap="round"/>
<path d="M462.2,943.2 Q460.8,937.8 465.8,935.4" stroke="#222" stroke-width="2.4" fill="none" stroke-linecap="round"/>
<text x="181" y="959.90" font-size="10.95" fill="#111">Biological replicates. Samples after</text>
<text x="181" y="972.70" font-size="10.95" fill="#111">84 h under control conditions</text>
<text x="341.3" y="984.30" font-size="10.95" fill="#111">Biological replicates.</text>
<text x="341.3" y="996.90" font-size="10.95" fill="#111">Samples after 90 h under</text>
<text x="341.3" y="1009.50" font-size="10.95" fill="#111">control conditions, following</text>
<text x="341.3" y="1022.10" font-size="10.95" fill="#111">a feed perturbation</text>
<text x="496.7" y="918.70" font-size="10.95" fill="#111">Biological replicates.</text>
<text x="496.7" y="931.70" font-size="10.95" fill="#111">Samples after 90 h</text>
<text x="496.7" y="944.70" font-size="10.95" fill="#111">of cultivation under</text>
<text x="496.7" y="957.70" font-size="10.95" fill="#111">control conditions,</text>
<text x="496.7" y="970.70" font-size="10.95" fill="#111">following a feed and</text>
<text x="496.7" y="983.70" font-size="10.95" fill="#111">pH perturbation</text>
<line x1="118.50" y1="145.30" x2="126.71" y2="157.91" stroke="#222" stroke-width="2.3" />
<polygon points="130.80,164.20 122.14,159.69 130.19,154.46" fill="#222"/>
<line x1="147.90" y1="145.30" x2="138.21" y2="158.20" stroke="#222" stroke-width="2.3" />
<polygon points="133.70,164.20 134.97,154.52 142.64,160.29" fill="#222"/>
<line x1="434.40" y1="147.30" x2="449.44" y2="157.73" stroke="#222" stroke-width="2.3" />
<polygon points="455.60,162.00 445.88,161.10 451.35,153.21" fill="#222"/>
<line x1="458.90" y1="127.80" x2="458.90" y2="156.30" stroke="#222" stroke-width="2.4" />
<polygon points="458.90,162.30 455.00,155.30 462.80,155.30" fill="#222"/>
<line x1="570.80" y1="133.20" x2="471.84" y2="160.22" stroke="#222" stroke-width="2.3" />
<polygon points="464.60,162.20 471.54,155.33 474.06,164.59" fill="#222"/>
</svg></body></html>
